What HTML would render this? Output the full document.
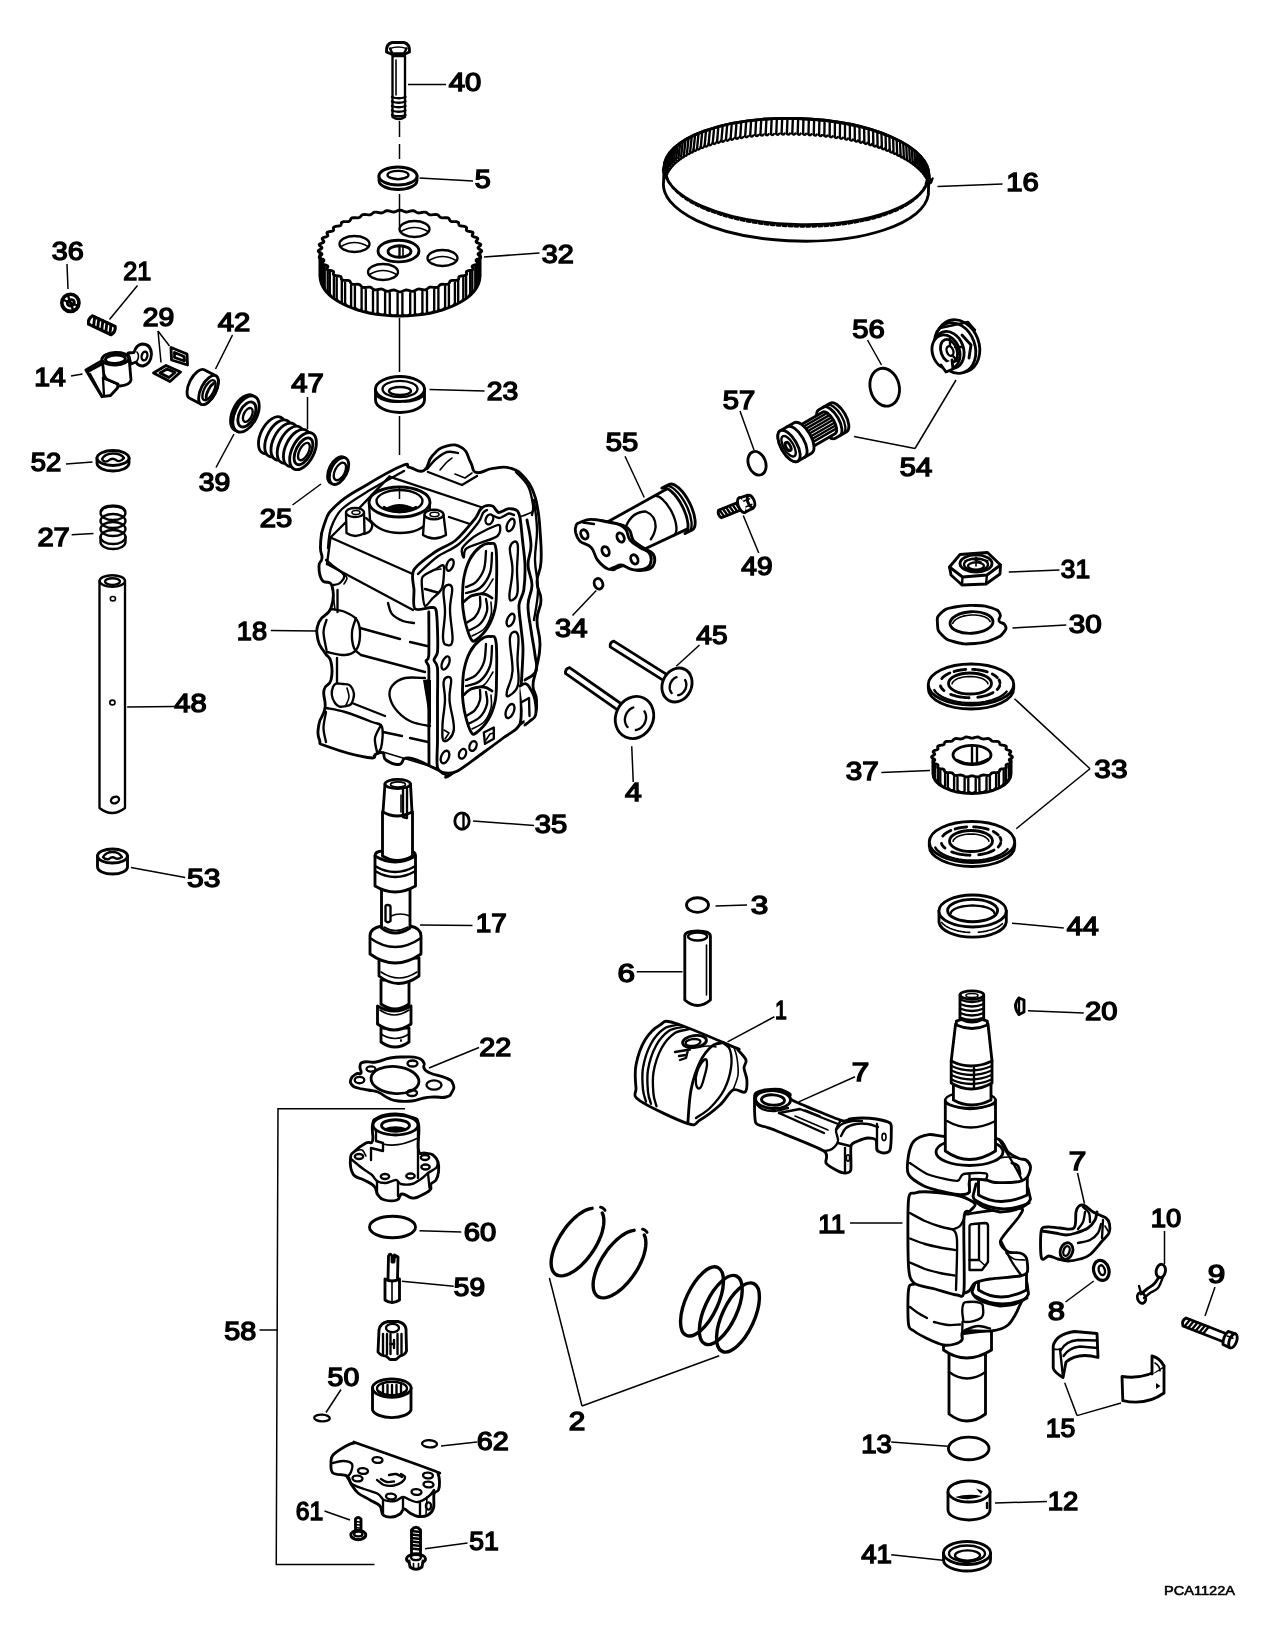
<!DOCTYPE html>
<html><head><meta charset="utf-8"><title>PCA1122A</title>
<style>
html,body{margin:0;padding:0;background:#fff}
svg{display:block}
.o{fill:none;stroke:#000;stroke-width:2.35;stroke-linejoin:round;stroke-linecap:round}
.w{fill:#fff;stroke:#000;stroke-width:2.35;stroke-linejoin:round;stroke-linecap:round}
.t{fill:none;stroke:#000;stroke-width:1.6;stroke-linejoin:round;stroke-linecap:round}
.tw{fill:#fff;stroke:#000;stroke-width:1.6;stroke-linejoin:round;stroke-linecap:round}
.h{fill:none;stroke:#000;stroke-width:2.85;stroke-linejoin:round;stroke-linecap:round}
.hw{fill:#fff;stroke:#000;stroke-width:2.85;stroke-linejoin:round;stroke-linecap:round}
.l{fill:none;stroke:#000;stroke-width:1.5;stroke-linecap:butt}
.k{fill:#000;stroke:none}
text{font-family:"Liberation Sans",sans-serif;font-size:25px;fill:#000;stroke:#000;stroke-width:1.4px}
text.s{font-size:13.5px;stroke-width:.6px}
</style></head><body>
<svg width="1280" height="1627" viewBox="0 0 1280 1627">
<rect width="1280" height="1627" fill="#fff"/>
<!-- 10_topcol.svg -->
<line class="l" x1="399.5" y1="121" x2="399.5" y2="137"/>
<line class="l" x1="399.5" y1="144" x2="399.5" y2="159"/>
<line class="l" x1="399.5" y1="194" x2="399.5" y2="226"/>
<line class="l" x1="399.5" y1="318" x2="399.5" y2="372"/>
<line class="l" x1="399.5" y1="416" x2="399.5" y2="455"/>
<path class="w" d="M392.5,56 L392.5,117 Q398.7,121 405,117 L405,56 Z"/>
<path class="o" d="M392,97 Q398.7,99.5 405.5,97"/>
<path class="o" d="M392,101.5 Q398.7,104 405.5,101.5"/>
<path class="o" d="M392,106 Q398.7,108.5 405.5,106"/>
<path class="o" d="M392,110.5 Q398.7,113 405.5,110.5"/>
<path class="o" d="M392,115 Q398.7,117.5 405.5,115"/>
<line class="t" x1="396" y1="60" x2="396" y2="95"/>
<path class="hw" d="M386.5,52 Q386,44 392,42.5 L404,42.5 Q410,44 409.5,52 Q398,58.5 386.5,52 Z"/>
<path class="o" d="M390,48.5 L392.5,53.5 L404,53.5 L406.5,48.5"/>
<path class="t" d="M390,48.5 Q398,45.5 406.5,48.5"/>
<path class="hw" d="M379,176 L379,180.5 A19,9 0 0 0 417,180.5 L417,176"/>
<ellipse class="hw" cx="398" cy="176" rx="19" ry="9"/>
<ellipse class="o" cx="398" cy="175" rx="10.5" ry="4.2"/>
<path class="t" d="M389.5,177 Q398,180.5 406.5,177"/>
<path class="hw" d="M320,251 L320,276 A80,40 0 0 0 480,276 L480,251 Z"/>
<polygon class="hw" points="481.8,251 481.2,251.8 479.9,252.6 478.6,253.3 478,254.1 478.4,254.9 479.4,255.7 480.5,256.6 480.8,257.4 480,258.1 478.5,258.8 476.9,259.4 476.1,260.1 476.2,260.9 477,261.9 477.7,262.8 477.8,263.6 476.8,264.3 475.1,264.8 473.3,265.4 472.3,266 472.2,266.8 472.7,267.7 473.1,268.7 472.8,269.6 471.7,270.1 469.8,270.5 467.9,270.9 466.7,271.4 466.3,272.2 466.5,273.2 466.7,274.2 466.1,275 464.8,275.5 462.8,275.8 460.9,276 459.5,276.4 458.9,277.2 458.7,278.2 458.6,279.2 457.8,279.9 456.3,280.3 454.3,280.4 452.3,280.4 450.8,280.7 450,281.4 449.5,282.4 449,283.4 448.1,284.1 446.5,284.3 444.4,284.3 442.5,284.2 440.9,284.4 439.8,285 439.1,285.9 438.3,286.8 437.1,287.4 435.5,287.5 433.5,287.3 431.6,287.1 429.9,287.1 428.7,287.7 427.7,288.5 426.6,289.4 425.3,289.9 423.6,289.9 421.7,289.5 419.9,289.1 418.3,289 416.9,289.5 415.6,290.2 414.3,291 412.8,291.4 411.1,291.2 409.4,290.7 407.7,290.2 406.1,290 404.6,290.3 403.1,291 401.6,291.6 400,291.9 398.4,291.6 396.9,291 395.4,290.3 393.9,290 392.3,290.2 390.6,290.7 388.9,291.2 387.2,291.4 385.7,291 384.4,290.2 383.1,289.5 381.7,289 380.1,289.1 378.3,289.5 376.4,289.9 374.7,289.9 373.4,289.4 372.3,288.5 371.3,287.7 370.1,287.1 368.4,287.1 366.5,287.3 364.5,287.5 362.9,287.4 361.7,286.8 360.9,285.9 360.2,285 359.1,284.4 357.5,284.2 355.6,284.3 353.5,284.3 351.9,284.1 351,283.4 350.5,282.4 350,281.4 349.2,280.7 347.7,280.4 345.7,280.4 343.7,280.3 342.2,279.9 341.4,279.2 341.3,278.2 341.1,277.2 340.5,276.4 339.1,276 337.2,275.8 335.2,275.5 333.9,275 333.3,274.2 333.5,273.2 333.7,272.2 333.3,271.4 332.1,270.9 330.2,270.5 328.3,270.1 327.2,269.6 326.9,268.7 327.3,267.7 327.8,266.8 327.7,266 326.7,265.4 324.9,264.8 323.2,264.3 322.2,263.6 322.3,262.8 323,261.9 323.8,260.9 323.9,260.1 323.1,259.4 321.5,258.8 320,258.1 319.2,257.4 319.5,256.6 320.6,255.7 321.6,254.9 322,254.1 321.4,253.3 320.1,252.6 318.8,251.8 318.2,251 318.8,250.2 320.1,249.4 321.4,248.7 322,247.9 321.6,247.1 320.6,246.3 319.5,245.4 319.2,244.6 320,243.9 321.5,243.2 323.1,242.6 323.9,241.9 323.8,241.1 323,240.1 322.3,239.2 322.2,238.4 323.2,237.7 324.9,237.2 326.7,236.6 327.7,236 327.8,235.2 327.3,234.3 326.9,233.3 327.2,232.4 328.3,231.9 330.2,231.5 332.1,231.1 333.3,230.6 333.7,229.8 333.5,228.8 333.3,227.8 333.9,227 335.2,226.5 337.2,226.2 339.1,226 340.5,225.6 341.1,224.8 341.3,223.8 341.4,222.8 342.2,222.1 343.7,221.7 345.7,221.6 347.7,221.6 349.2,221.3 350,220.6 350.5,219.6 351,218.6 351.9,217.9 353.5,217.7 355.6,217.7 357.5,217.8 359.1,217.6 360.2,217 360.9,216.1 361.7,215.2 362.9,214.6 364.5,214.5 366.5,214.7 368.4,214.9 370.1,214.9 371.3,214.3 372.3,213.5 373.4,212.6 374.7,212.1 376.4,212.1 378.3,212.5 380.1,212.9 381.7,213 383.1,212.5 384.4,211.8 385.7,211 387.2,210.6 388.9,210.8 390.6,211.3 392.3,211.8 393.9,212 395.4,211.7 396.9,211 398.4,210.4 400,210.1 401.6,210.4 403.1,211 404.6,211.7 406.1,212 407.7,211.8 409.4,211.3 411.1,210.8 412.8,210.6 414.3,211 415.6,211.8 416.9,212.5 418.3,213 419.9,212.9 421.7,212.5 423.6,212.1 425.3,212.1 426.6,212.6 427.7,213.5 428.7,214.3 429.9,214.9 431.6,214.9 433.5,214.7 435.5,214.5 437.1,214.6 438.3,215.2 439.1,216.1 439.8,217 440.9,217.6 442.5,217.8 444.4,217.7 446.5,217.7 448.1,217.9 449,218.6 449.5,219.6 450,220.6 450.8,221.3 452.3,221.6 454.3,221.6 456.3,221.7 457.8,222.1 458.6,222.8 458.7,223.8 458.9,224.8 459.5,225.6 460.9,226 462.8,226.2 464.8,226.5 466.1,227 466.7,227.8 466.5,228.8 466.3,229.8 466.7,230.6 467.9,231.1 469.8,231.5 471.7,231.9 472.8,232.4 473.1,233.3 472.7,234.3 472.2,235.2 472.3,236 473.3,236.6 475.1,237.2 476.8,237.7 477.8,238.4 477.7,239.2 477,240.1 476.2,241.1 476.1,241.9 476.9,242.6 478.5,243.2 480,243.9 480.8,244.6 480.5,245.4 479.4,246.3 478.4,247.1 478,247.9 478.6,248.7 479.9,249.4 481.2,250.2 481.8,251"/>
<line class="o" x1="480" y1="254.7" x2="480" y2="275.7"/>
<line class="o" x1="479.4" y1="258.6" x2="479.4" y2="279.6"/>
<path class="o" d="M480,275.7 Q479.7,280.6 479.4,279.6"/>
<line class="o" x1="478.6" y1="260.9" x2="478.6" y2="281.9"/>
<line class="o" x1="476.8" y1="264.7" x2="476.8" y2="285.7"/>
<path class="o" d="M478.6,281.9 Q477.7,286.8 476.8,285.7"/>
<line class="o" x1="475.3" y1="267" x2="475.3" y2="288"/>
<line class="o" x1="472.3" y1="270.6" x2="472.3" y2="291.6"/>
<path class="o" d="M475.3,288 Q473.8,292.8 472.3,291.6"/>
<line class="o" x1="470.2" y1="272.7" x2="470.2" y2="293.7"/>
<line class="o" x1="466.1" y1="276" x2="466.1" y2="297"/>
<path class="o" d="M470.2,293.7 Q468.1,298.4 466.1,297"/>
<line class="o" x1="463.3" y1="278" x2="463.3" y2="299"/>
<line class="o" x1="458.2" y1="280.9" x2="458.2" y2="301.9"/>
<path class="o" d="M463.3,299 Q460.8,303.4 458.2,301.9"/>
<line class="o" x1="454.9" y1="282.6" x2="454.9" y2="303.6"/>
<line class="o" x1="448.9" y1="285.1" x2="448.9" y2="306.1"/>
<path class="o" d="M454.9,303.6 Q451.9,307.9 448.9,306.1"/>
<line class="o" x1="445.1" y1="286.5" x2="445.1" y2="307.5"/>
<line class="o" x1="438.4" y1="288.6" x2="438.4" y2="309.6"/>
<path class="o" d="M445.1,307.5 Q441.8,311.6 438.4,309.6"/>
<line class="o" x1="434.2" y1="289.7" x2="434.2" y2="310.7"/>
<line class="o" x1="427" y1="291.2" x2="427" y2="312.2"/>
<path class="o" d="M434.2,310.7 Q430.6,314.4 427,312.2"/>
<line class="o" x1="422.4" y1="291.9" x2="422.4" y2="312.9"/>
<line class="o" x1="414.9" y1="292.8" x2="414.9" y2="313.8"/>
<path class="o" d="M422.4,312.9 Q418.7,316.3 414.9,313.8"/>
<line class="o" x1="410.2" y1="293.2" x2="410.2" y2="314.2"/>
<line class="o" x1="402.4" y1="293.5" x2="402.4" y2="314.5"/>
<path class="o" d="M410.2,314.2 Q406.3,317.3 402.4,314.5"/>
<line class="o" x1="397.6" y1="293.5" x2="397.6" y2="314.5"/>
<line class="o" x1="389.8" y1="293.2" x2="389.8" y2="314.2"/>
<path class="o" d="M397.6,314.5 Q393.7,317.3 389.8,314.2"/>
<line class="o" x1="385.1" y1="292.8" x2="385.1" y2="313.8"/>
<line class="o" x1="377.6" y1="291.9" x2="377.6" y2="312.9"/>
<path class="o" d="M385.1,313.8 Q381.3,316.3 377.6,312.9"/>
<line class="o" x1="373" y1="291.2" x2="373" y2="312.2"/>
<line class="o" x1="365.8" y1="289.7" x2="365.8" y2="310.7"/>
<path class="o" d="M373,312.2 Q369.4,314.4 365.8,310.7"/>
<line class="o" x1="361.6" y1="288.6" x2="361.6" y2="309.6"/>
<line class="o" x1="354.9" y1="286.5" x2="354.9" y2="307.5"/>
<path class="o" d="M361.6,309.6 Q358.2,311.6 354.9,307.5"/>
<line class="o" x1="351.1" y1="285.1" x2="351.1" y2="306.1"/>
<line class="o" x1="345.1" y1="282.6" x2="345.1" y2="303.6"/>
<path class="o" d="M351.1,306.1 Q348.1,307.9 345.1,303.6"/>
<line class="o" x1="341.8" y1="280.9" x2="341.8" y2="301.9"/>
<line class="o" x1="336.7" y1="278" x2="336.7" y2="299"/>
<path class="o" d="M341.8,301.9 Q339.2,303.4 336.7,299"/>
<line class="o" x1="333.9" y1="276" x2="333.9" y2="297"/>
<line class="o" x1="329.8" y1="272.7" x2="329.8" y2="293.7"/>
<path class="o" d="M333.9,297 Q331.9,298.4 329.8,293.7"/>
<line class="o" x1="327.7" y1="270.6" x2="327.7" y2="291.6"/>
<line class="o" x1="324.7" y1="267" x2="324.7" y2="288"/>
<path class="o" d="M327.7,291.6 Q326.2,292.8 324.7,288"/>
<line class="o" x1="323.2" y1="264.7" x2="323.2" y2="285.7"/>
<line class="o" x1="321.4" y1="260.9" x2="321.4" y2="281.9"/>
<path class="o" d="M323.2,285.7 Q322.3,286.8 321.4,281.9"/>
<line class="o" x1="320.6" y1="258.6" x2="320.6" y2="279.6"/>
<line class="o" x1="320" y1="254.7" x2="320" y2="275.7"/>
<path class="o" d="M320.6,279.6 Q320.3,280.6 320,275.7"/>
<ellipse class="w" cx="414.5" cy="229" rx="15" ry="8"/>
<path class="t" d="M401,231.5 Q414.5,223.5 428,231.5"/>
<ellipse class="w" cx="354.5" cy="244" rx="15" ry="8"/>
<path class="t" d="M341,246.5 Q354.5,238.5 368,246.5"/>
<ellipse class="w" cx="442.5" cy="258" rx="15" ry="8"/>
<path class="t" d="M429,260.5 Q442.5,252.5 456,260.5"/>
<ellipse class="w" cx="383" cy="272" rx="15" ry="8"/>
<path class="t" d="M369.5,274.5 Q383,266.5 396.5,274.5"/>
<ellipse class="hw" cx="398.5" cy="251" rx="20.5" ry="10.8"/>
<ellipse class="hw" cx="399.5" cy="251.5" rx="11.5" ry="5.8"/>
<line class="o" x1="399.5" y1="246" x2="399.5" y2="257"/>
<line class="t" x1="403" y1="247" x2="403" y2="256.5"/>
<line class="l" x1="399.5" y1="210" x2="399.5" y2="226.5"/>
<path class="hw" d="M375.5,389 L375.5,400 A24.5,12.5 0 0 0 424.5,400 L424.5,389"/>
<ellipse class="hw" cx="400" cy="389" rx="24.5" ry="12.5"/>
<ellipse class="o" cx="400" cy="389" rx="17.5" ry="8.2"/>
<ellipse class="o" cx="400" cy="391" rx="11" ry="4"/>
<path class="t" d="M377,396.5 A24,12 0 0 0 400,402"/>
<path class="t" d="M404,402 A24,12 0 0 0 423,396.5"/>

<!-- 11_left.svg -->
<ellipse class="hw" cx="70.4" cy="302.8" rx="8.6" ry="8.6" style="stroke-width:3.6"/>
<ellipse class="h" cx="70.8" cy="302.8" rx="3.6" ry="3" transform="rotate(-20 70.8 302.8)"/>
<line class="o" x1="63.5" y1="300" x2="77.5" y2="305.5"/>
<line class="o" x1="68" y1="295.5" x2="73" y2="310"/>
<g transform="translate(90.5,320) rotate(25)">
<path class="hw" d="M0,-4.6 L25,-4.6 Q28,0 25,4.6 L0,4.6 Q-3,0 0,-4.6 Z" style="stroke-width:3.2"/>
<line class="h" x1="2.5" y1="-4.6" x2="5.5" y2="4.6"/>
<line class="h" x1="7" y1="-4.6" x2="10" y2="4.6"/>
<line class="h" x1="11.5" y1="-4.6" x2="14.5" y2="4.6"/>
<line class="h" x1="16" y1="-4.6" x2="19" y2="4.6"/>
<line class="h" x1="20.5" y1="-4.6" x2="23.5" y2="4.6"/>
</g>
<path class="hw" d="M128,353 L134,352.5 Q136,345 142,344 Q151,344 151.5,354 Q151,364 143,366 Q138,366 136,362 L131,364 Z"/>
<ellipse class="o" cx="144.5" cy="356" rx="2.8" ry="4.4" transform="rotate(15 144.5 356)"/>
<path class="t" d="M137,352 Q140,356 137,361"/>
<path class="hw" d="M102,359 L102.8,372 Q108,386 120,386 Q130,385 131,380 L129,357 Z"/>
<ellipse class="hw" cx="115.4" cy="358.8" rx="13.4" ry="6.3" transform="rotate(-3 115.4 358.8)"/>
<ellipse class="h" cx="115.4" cy="359.2" rx="10" ry="4.2" transform="rotate(-3 115.4 359.2)"/>
<path class="hw" d="M85.9,370 L100.6,361.6 L103,366 L104,378 L118,384 L117.5,388 L110.5,395.5 L102,396.7 Z"/>
<path class="h" d="M88,371.5 L100,365"/>
<path class="o" d="M90,374 L102,396"/>
<path class="o" d="M103,378 L104,396"/>
<path class="o" d="M103,378 L117,384"/>
<path class="hw" d="M171,347.5 L187,354 L187.5,365 L171.5,360 Z"/>
<path class="h" d="M174.5,352.5 L184,356.5 L184.5,361 L174.5,357.5 Z"/>
<path class="hw" d="M153.5,373 L166,365.5 L180.5,372 L170,381.5 Z"/>
<path class="h" d="M160,373 L167,369 L175,372.5 L169,377.5 Z"/>
<g transform="translate(208.5,390) rotate(27)">
<path class="hw" d="M-13,-16 L0,-16 A7.5,16 0 0 1 0,16 L-13,16 A7.5,16 0 0 1 -13,-16 Z"/>
<ellipse class="hw" cx="0" cy="0" rx="7.5" ry="16"/>
<ellipse class="o" cx="0.5" cy="0" rx="4.8" ry="11"/>
<path class="h" d="M1.5,-8 A3,9 0 0 0 1.5,8"/>
</g>
<g transform="translate(246,414) rotate(27)">
<ellipse class="hw" cx="-2.5" cy="0" rx="11" ry="19.5"/>
<ellipse class="hw" cx="0" cy="0" rx="11" ry="19.5"/>
<ellipse class="h" cx="1" cy="0" rx="7.5" ry="13.5"/>
<ellipse class="o" cx="2" cy="0" rx="4" ry="7.5"/>
</g>
<g transform="translate(295,447) rotate(27)">
<ellipse class="hw" cx="-26" cy="0" rx="11" ry="20"/>
<ellipse class="hw" cx="-19" cy="0" rx="11" ry="20"/>
<ellipse class="hw" cx="-12" cy="0" rx="11" ry="20"/>
<ellipse class="hw" cx="-5" cy="0" rx="11" ry="20"/>
<ellipse class="hw" cx="2" cy="0" rx="11" ry="20"/>
<ellipse class="hw" cx="9" cy="0" rx="11" ry="20"/>
<ellipse class="h" cx="9.5" cy="0" rx="7.5" ry="14.5"/>
<ellipse class="o" cx="10" cy="0" rx="4.5" ry="9.5"/>
</g>
<g transform="translate(339,471) rotate(27)">
<ellipse class="hw" cx="-2" cy="0" rx="8" ry="14.5"/>
<ellipse class="hw" cx="0" cy="0" rx="8" ry="14.5"/>
<ellipse class="o" cx="1" cy="0" rx="5" ry="9.5"/>
</g>
<path class="hw" d="M97,458 L97,463 A16,8 0 0 0 129,463 L129,458"/>
<ellipse class="hw" cx="113" cy="458" rx="16" ry="7.5"/>
<path class="o" d="M102,459 Q105,453.5 113,453.5 Q121,453.5 124,458 Q120,463 116,460 Q112,457 108,461 Q104,463 102,459 Z"/>
<ellipse class="o" cx="113" cy="513" rx="12.5" ry="7"/>
<ellipse class="o" cx="113" cy="521" rx="12.5" ry="7"/>
<ellipse class="o" cx="113" cy="529" rx="12.5" ry="7"/>
<ellipse class="o" cx="113" cy="537" rx="12.5" ry="7"/>
<path class="o" d="M100.5,537 L100.5,542 A12.5,7 0 0 0 125.5,542 L125.5,537"/>
<path class="h" d="M101,511 Q103,506 113,506 Q123,506 125,511"/>
<path class="w" d="M99.5,581 L99.5,808 Q112,818 125,808 L125,581"/>
<ellipse class="w" cx="112.3" cy="581" rx="12.7" ry="5.8"/>
<ellipse class="o" cx="112.5" cy="581.5" rx="7.5" ry="3.3"/>
<ellipse class="t" cx="112.9" cy="598.7" rx="2.6" ry="2.2"/>
<ellipse class="t" cx="112.4" cy="702.5" rx="2.6" ry="2.4"/>
<ellipse class="o" cx="115" cy="800" rx="4.2" ry="3.2" transform="rotate(-25 115 800)"/>
<path class="hw" d="M97.5,856 L97.5,867 A15,7 0 0 0 127.5,867 L127.5,856"/>
<ellipse class="hw" cx="112.5" cy="856" rx="15" ry="7"/>
<path class="o" d="M103,857 Q106,852 112.5,852 Q119,852 122,857 Q118,860 115,858 Q112,856 109,859 Q105,860 103,857 Z"/>

<!-- 12_head.svg -->
<path class="hw" d="M401.6,466 C390.9,470.3 383.2,474.9 367,484.7 C350.8,494.4 347.4,494.9 336.6,505 C325.9,515.1 328,514.8 324,525 C320,535.2 321,537.8 320.5,546 C320,554.2 322.4,553 322,558 C321.6,563 319,560.5 319,566 C319,571.5 318.8,575 322,580 C325.2,585 329.8,579 332,586 C334.2,593 334.2,599 331,608 C327.8,617 322.2,614 319,622 C315.8,630 316.5,632.2 318,640 C319.5,647.8 321.8,647.5 325,653 C328.2,658.5 329.5,655.2 331,662 C332.5,668.8 332.8,673 331,680 C329.2,687 325.5,683 324,690 C322.5,697 326.2,699.5 325,708 C323.8,716.5 320.4,716 319,724 C317.6,732 317.4,734.4 319.5,740 C321.6,745.6 315.5,742.1 327.5,746.5 C339.5,750.9 355.4,755.6 367.5,757.5 C379.6,759.4 372.1,755.1 376,754 C379.9,752.9 380.5,751.5 383,753 C385.5,754.5 382,757.1 386,760 C390,762.9 393.2,765 399,764.5 C404.8,764 399.8,756.9 409,758 C418.2,759.1 427,765 436,769 C445,773 440,773.5 445,774 C450,774.5 437.9,783 456,771 C474.1,759 498.2,739.8 517.5,726 C536.8,712.2 528.2,722.5 533,716 C537.8,709.5 536.5,707.5 536.5,700 C536.5,692.5 533.1,693.5 533,686 C532.9,678.5 534.2,680.2 536,670 C537.8,659.8 539.8,657.5 540,645 C540.2,632.5 536.8,631.2 537,620 C537.2,608.8 541,609.5 541,600 C541,590.5 537,591.5 537,582 C537,572.5 540.2,575 541,562 C541.8,549 540.8,543.2 540,530 C539.2,516.8 539.3,518.3 537.7,509 C536.1,499.7 536.7,500.4 533.6,492.8 C530.5,485.2 531.1,484.7 525.5,478.6 C519.9,472.5 519.4,470.9 511.3,468.4 C503.2,465.8 501.6,467.4 493,468.4 C484.4,469.4 482.3,474 476.7,472.5 C471.1,471 474.2,468.4 470.6,462.3 C467.1,456.2 468.6,452.2 462.5,448.1 C456.4,444.1 453.9,444.1 446.3,446.1 C438.7,448.1 437.6,450.1 432,456.2 C426.4,462.3 429.5,467.7 423.9,470.5 C418.3,473.3 415.3,468.5 409.7,467.4 C404.1,466.3 412.3,461.7 401.6,466 Z"/>
<path class="o" d="M328,548 C328.5,544.7 328.7,534.5 331,528 C333.3,521.5 335.5,515.3 342,509 C348.5,502.7 359.7,496.3 370,490 C380.3,483.7 398.3,474.2 404,471"/>
<polyline class="o" points="389.4,476.6 480.8,507"/>
<polyline class="o" points="330.5,537.5 412.7,574"/>
<polyline class="o" points="330.5,537.5 345,523 389.4,476.6"/>
<polyline class="o" points="327,564 413,610"/>
<polyline class="o" points="330.5,537.5 327,564"/>
<path class="o" d="M427,469 C428.5,467.3 432.7,461.8 436,459 C439.3,456.2 443.3,453 447,452 C450.7,451 456.2,452.8 458,453"/>
<path class="t" d="M440,470 C441.2,468.7 445,464 447,462 C449,460 451.2,458.7 452,458"/>
<polyline class="o" points="428,472 462,485 477,476"/>
<polyline class="t" points="455,474 465,478 472,473"/>
<polyline class="o" points="449,517 470,524"/>
<path class="o" d="M516,472 C518,474.3 525.2,480.5 528,486 C530.8,491.5 532.3,500.2 533,505 C533.7,509.8 532.2,513.3 532,515"/>
<path class="t" d="M520,517 C521.7,516.3 527,514.5 530,513 C533,511.5 536.7,508.8 538,508"/>
<path class="w" d="M369,503 L370,520 Q380,533 400,533 Q420,533 429,521 L430,503"/>
<ellipse class="hw" cx="399.5" cy="502" rx="30.5" ry="15"/>
<ellipse class="o" cx="399.5" cy="501" rx="23" ry="11"/>
<path class="k" d="M386,508 Q399,500 414,508 Q400,515 386,508 Z"/>
<path class="o" d="M384,507 Q399,517 416,507"/>
<line class="l" x1="399.5" y1="486" x2="399.5" y2="499"/>
<path class="o" d="M366,518 C367,519 371.3,521.8 372,524 C372.7,526.2 371.3,529.3 370,531 C368.7,532.7 365,533.5 364,534"/>
<path class="w" d="M346,513 L346.5,533 Q355,539 364.5,533 L364,513"/>
<ellipse class="w" cx="355" cy="512.5" rx="9" ry="4.5"/>
<ellipse class="t" cx="356" cy="512.5" rx="4" ry="2"/>
<path class="w" d="M424.5,515 L423,535 Q434,542 446,535 L443.5,515"/>
<ellipse class="w" cx="434" cy="514.5" rx="9.5" ry="4.8"/>
<ellipse class="t" cx="434.5" cy="514.5" rx="4.5" ry="2.2"/>
<path class="o" d="M326,560 C327.2,561 330,563.5 333,566 C336,568.5 342.8,572.2 344,575 C345.2,577.8 341.8,581.3 340,583 C338.2,584.7 334.2,584.7 333,585"/>
<path class="t" d="M343,574 C343.7,574.7 346.8,576.3 347,578 C347.2,579.7 344.5,583 344,584"/>
<path class="hw" d="M413.8,570 C416.9,564.3 428.7,556.5 435,552 C441.3,547.5 450,545 456,540 C462,535 471.4,523.2 475,518.8 C478.6,514.2 478.5,511.9 480,510 C481.5,508.1 483.1,506.6 485,506 C486.9,505.4 490.9,505.4 492.5,506 C494.1,506.6 495.1,509 496,510 C496.9,511 497.7,512.4 498.8,512.5 C499.8,512.6 501.7,511.6 503,511 C504.3,510.4 506,509.1 507.5,508.8 C509,508.4 511.5,508.7 513,509 C514.5,509.3 516.5,509.7 517.5,511 C518.5,512.3 519.2,513.1 520,517.5 C520.8,521.9 521.8,532.9 522.5,540 C523.2,547.1 524.8,557.5 525,565 C525.2,572.5 524.6,584 523.8,590 C522.9,596 519.4,599.4 519,605 C518.6,610.6 520.4,620.8 521,627.5 C521.6,634.2 523,640.6 523,650 C523,659.4 521.5,678.9 521,690 C520.5,701.1 522.6,716.6 520,723.8 C517.4,730.9 509.8,732.8 503.8,737.5 C497.8,742.2 486.9,750 480,755 C473.1,760 462.6,768.3 457.5,771 C452.4,773.7 449,773.5 446,773 C443,772.5 438.8,772.5 437.5,767.5 C436.2,762.5 437.5,750.1 437.5,740 C437.5,729.9 437.5,710.8 437.5,700 C437.5,689.2 438,674 437.5,668 C437,662 434,662.4 434,660 C434,657.6 437,656.5 437.5,652 C438,647.5 437.7,636.3 437.5,630 C437.3,623.7 437,613.4 436,610 C435,606.6 434.1,607.7 431,607.5 C427.9,607.3 417.6,611.4 415,608.8 C412.4,606.1 414.2,595.8 414,590 C413.8,584.2 410.6,575.7 413.8,570 Z"/>
<path class="o" d="M418,574 C421.2,571.2 430.2,562 437,557 C443.8,552 452.2,549.7 459,544 C465.8,538.3 474,528.2 478,523 C482,517.8 481.5,515.2 483,513 C484.5,510.8 486.3,510.5 487,510"/>
<path class="o" d="M494,516 C494.8,516.3 497.3,518 499,518 C500.7,518 502.3,516.8 504,516 C505.7,515.2 507.3,513.7 509,513.5 C510.7,513.3 513.2,514.8 514,515"/>
<path class="h" d="M428.8,612 C428.8,617.7 429.1,648.5 428.8,655 C428.4,661.5 426,659.3 426,661 C426,662.7 428.4,662.8 428.8,668 C429.1,673.2 428.7,687.1 428.8,700 C428.8,712.9 429,756.3 429,765"/>
<path class="k" d="M423,680 L431,680 L431,727.5 Q427,705 423,680 Z"/>
<ellipse class="o" cx="489.4" cy="519.4" rx="3.6" ry="5.2" transform="rotate(22 489.4 519.4)"/>
<ellipse class="o" cx="510.6" cy="525" rx="3.4" ry="6.6" transform="rotate(22 510.6 525)"/>
<ellipse class="o" cx="450" cy="565" rx="3.2" ry="6" transform="rotate(22 450 565)"/>
<ellipse class="o" cx="510.6" cy="620" rx="3.4" ry="6.6" transform="rotate(22 510.6 620)"/>
<ellipse class="o" cx="445.6" cy="663" rx="3.4" ry="7" transform="rotate(22 445.6 663)"/>
<ellipse class="o" cx="510" cy="711" rx="3.8" ry="7.4" transform="rotate(22 510 711)"/>
<ellipse class="o" cx="445" cy="757" rx="3.8" ry="6.6" transform="rotate(22 445 757)"/>
<ellipse class="o" cx="473" cy="746" rx="3.4" ry="5" transform="rotate(22 473 746)"/>
<ellipse class="o" cx="462.5" cy="753.8" rx="3.4" ry="5" transform="rotate(22 462.5 753.8)"/>
<polygon class="o" points="483.8,732.5 493.8,727.5 493.8,738.8 485,743.8"/>
<polyline class="t" points="486,740 490,734 493.5,733"/>
<path class="o" d="M443.8,589 C445.1,584.1 450.8,583.3 452,587.5 C453.2,591.7 449.9,599.5 450,610 C450.1,620.5 453.1,633 452.5,640 C451.9,647 448.9,645.4 447,645 C445.1,644.6 443.4,644.6 443,638 C442.6,631.4 444.9,621.8 445,612 C445.1,602.2 442.4,593.9 443.8,589 Z"/>
<path class="o" d="M443.8,681 C444.9,676.8 449.9,675.2 451,679 C452.1,682.8 448.9,689.8 449.5,700 C450.1,710.2 454.9,721.8 453.8,730 C452.6,738.2 446.2,742 444,741 C441.8,740 442.3,733.2 442.5,725 C442.7,716.8 444.8,708.8 445,700 C445.2,691.2 442.6,685.2 443.8,681 Z"/>
<polyline class="t" points="444,730 449,733 445,739"/>
<path class="o" d="M510,547.5 C511,542.2 516.1,539.2 517.5,543.8 C518.9,548.2 517,560.2 517,570 C517,579.8 518.4,586.5 517.5,592.5 C516.6,598.5 514.1,599.3 512.5,600 C510.9,600.7 509.4,602 509.4,596 C509.4,590 512.4,579.7 512.5,570 C512.6,560.3 509,552.8 510,547.5 Z"/>
<path class="o" d="M510,637.5 C511.1,630.3 516.5,630.5 518,635 C519.5,639.5 517.5,650 517.5,660 C517.5,670 519.8,677.8 518,685 C516.2,692.2 510.9,694.8 508.8,696 C506.6,697.2 506.2,696 507,691 C507.8,686 511.9,681.7 512.5,671 C513.1,660.3 508.9,644.7 510,637.5 Z"/>
<path class="o" d="M478.8,533.8 C482.9,531.4 491.5,527.3 495,526 C498.5,524.7 499.6,524.3 500,526 C500.4,527.7 500.8,533.2 497.5,536 C494.2,538.8 485.2,540.9 480,543 C474.8,545.1 468.7,546.3 466,548.8 C463.3,551.2 464.4,557.5 463.8,557.5 C463.1,557.5 461,551.9 462,549 C463,546.1 467.2,542.5 470,540 C472.8,537.5 474.6,536.1 478.8,533.8 Z"/>
<path class="o" d="M422.5,577 C424.3,573.9 433.2,570.5 436,569 C438.8,567.5 442.9,563.5 443.8,566 C444.6,568.5 443.6,583.6 442,588 C440.4,592.4 434.3,596.6 432,599 C429.7,601.4 426.3,606.9 425,606 C423.7,605.1 422.8,595.9 422.5,592 C422.2,588.1 420.7,580.1 422.5,577 Z"/>
<polyline class="o" points="425,589 437.5,592.5"/>
<polyline class="t" points="434,570 441,569"/>
<path class="hw" d="M462.5,597 C462.7,591.1 462.6,584 464,577 C465.4,570 467.1,564.5 470,559 C472.9,553.5 476.3,549.8 480,547 C483.7,544.2 487.1,543.1 490,543.5 C492.9,543.9 494.8,541 496,549 C497.2,557 496.7,576 496.5,587 C496.3,598 496.6,601.7 495,609 C493.4,616.3 491.5,621.3 488,627 C484.5,632.7 479.1,637.8 476,640 C472.9,642.2 472.8,641.8 471,639 C469.2,636.2 467.5,630.5 466,625 C464.5,619.5 463.6,614.1 463,609 C462.4,603.9 462.3,602.9 462.5,597 Z"/>
<path class="o" d="M466,587 C467.7,586.2 473,585 476,582 C479,579 482.3,574.2 484,569 C485.7,563.8 485.7,554 486,551"/>
<path class="o" d="M466,593 C468.3,592.2 476,591.3 480,588 C484,584.7 488,578.8 490,573 C492,567.2 491.7,556.3 492,553"/>
<path class="t" d="M470,596.5 C472.3,595.8 480.2,594.9 484,592 C487.8,589.1 491.5,581.2 493,579"/>
<path class="h" d="M463.5,602 C464.9,600.9 468.6,596.8 472,595.5 C475.4,594.2 480.7,593.6 484,594 C487.3,594.4 490.7,597.3 492,598"/>
<path class="o" d="M466,623 C467.5,622 472.7,619.7 475,617 C477.3,614.3 479.2,610.3 480,607 C480.8,603.7 480,598.7 480,597"/>
<path class="o" d="M468,631 C470,629.8 476.8,627.3 480,624 C483.2,620.7 486,615.2 487,611 C488,606.8 486.2,601 486,599"/>
<path class="t" d="M472,636 C474,634.8 480.8,632.5 484,629 C487.2,625.5 489.8,619.5 491,615 C492.2,610.5 491,604.2 491,602"/>
<path class="hw" d="M462.5,690 C462.7,684.1 462.6,677 464,670 C465.4,663 467.1,657.5 470,652 C472.9,646.5 476.3,642.8 480,640 C483.7,637.2 487.1,636.1 490,636.5 C492.9,636.9 494.8,634 496,642 C497.2,650 496.7,669 496.5,680 C496.3,691 496.6,694.7 495,702 C493.4,709.3 491.5,714.3 488,720 C484.5,725.7 479.1,730.8 476,733 C472.9,735.2 472.8,734.8 471,732 C469.2,729.2 467.5,723.5 466,718 C464.5,712.5 463.6,707.1 463,702 C462.4,696.9 462.3,695.9 462.5,690 Z"/>
<path class="o" d="M466,680 C467.7,679.2 473,678 476,675 C479,672 482.3,667.2 484,662 C485.7,656.8 485.7,647 486,644"/>
<path class="o" d="M466,686 C468.3,685.2 476,684.3 480,681 C484,677.7 488,671.8 490,666 C492,660.2 491.7,649.3 492,646"/>
<path class="t" d="M470,689.5 C472.3,688.8 480.2,687.9 484,685 C487.8,682.1 491.5,674.2 493,672"/>
<path class="h" d="M463.5,695 C464.9,693.9 468.6,689.8 472,688.5 C475.4,687.2 480.7,686.6 484,687 C487.3,687.4 490.7,690.3 492,691"/>
<path class="o" d="M466,716 C467.5,715 472.7,712.7 475,710 C477.3,707.3 479.2,703.3 480,700 C480.8,696.7 480,691.7 480,690"/>
<path class="o" d="M468,724 C470,722.8 476.8,720.3 480,717 C483.2,713.7 486,708.2 487,704 C488,699.8 486.2,694 486,692"/>
<path class="t" d="M472,729 C474,727.8 480.8,725.5 484,722 C487.2,718.5 489.8,712.5 491,708 C492.2,703.5 491,697.2 491,695"/>
<path class="o" d="M337.5,590 C337.5,593.7 337.5,608.3 337.5,612"/>
<path class="o" d="M337,658 C337,662.2 337,678.8 337,683"/>
<path class="o" d="M326.5,620 C326,622 323.5,627 323.5,632 C323.5,637 326,647 326.5,650"/>
<path class="o" d="M326,712 C325.6,714.7 323.5,723 323.5,728 C323.5,733 325.6,739.7 326,742"/>
<path class="o" d="M331,609 C333.3,609.5 340.7,610.2 345,612 C349.3,613.8 354.5,616 357,620 C359.5,624 360.2,631 360,636 C359.8,641 358.5,646.8 356,650 C353.5,653.2 349.8,654.7 345,655 C340.2,655.3 330,652.5 327,652"/>
<path class="o" d="M356,618 C355.3,620.3 352.3,627 352,632 C351.7,637 352.5,644.2 354,648 C355.5,651.8 359.8,653.8 361,655"/>
<polyline class="o" points="360,628 400,639"/>
<polyline class="o" points="410,642 427,646"/>
<polyline class="o" points="361,655 425,672"/>
<polyline class="t" points="335,610 332,585"/>
<path class="o" d="M388,603 C388.7,604.8 389.5,611 392,614 C394.5,617 399.3,619.5 403,621 C406.7,622.5 412.2,622.7 414,623"/>
<path class="o" d="M333,687 C335.1,681.9 337.9,683.7 343,684 C348.1,684.3 349.3,683.7 352,688 C354.7,692.3 354.6,695.2 353,700 C351.4,704.8 350.8,705.2 346,706 C341.2,706.8 338.5,708.1 335,703 C331.5,697.9 330.9,692.1 333,687 Z"/>
<path class="t" d="M347,688 C347.3,689.5 349.2,694.2 349,697 C348.8,699.8 346.5,703.7 346,705"/>
<polyline class="o" points="352,703 385,716"/>
<path class="o" d="M326,708 C329.2,708.7 337.3,709.7 345,712 C352.7,714.3 365.8,719.5 372,722 C378.2,724.5 380.5,722.7 382,727 C383.5,731.3 382.3,743.2 381,748 C379.7,752.8 375.2,754.7 374,756"/>
<path class="o" d="M381,725 C380,727.2 375.7,733.5 375,738 C374.3,742.5 376.7,749.7 377,752"/>
<polyline class="o" points="383,732 402,736"/>
<polyline class="o" points="410,738 428,742"/>
<polyline class="t" points="383,752 436,768"/>
<path class="o" d="M425,678 C421.7,678 410.5,676.7 405,678 C399.5,679.3 394.5,682.7 392,686 C389.5,689.3 389,693.7 390,698 C391,702.3 394.3,708 398,712 C401.7,716 406.7,719.7 412,722 C417.3,724.3 427,725.3 430,726"/>
<path class="k" d="M424,680 L430,679 L431,712 L428,705 L425,690 Z"/>
<path class="h" d="M527,520 C527.8,525 530.8,536 531,545 C531.2,554 527.8,557 528,565 C528.2,573 532,577 532,585 C532,593 528.2,596 528,605 C527.8,614 529.6,620 531,630 C532.4,640 534,646.8 535,655 C536,663.2 538,666 536,671 C534,676 527.2,678.2 525,680"/>
<path class="o" d="M534,500 C534.6,506 536.8,518 537,530 C537.2,542 534.8,548 535,560 C535.2,572 538.2,578 538,590 C537.8,602 534.8,614 534,620"/>
<path class="hw" d="M520,686 C521.2,685.5 523.8,683 526,683.8 C528.2,684.5 529.2,686.8 531,690 C532.8,693.2 534.1,695 535,700 C535.9,705 536.6,710.8 535.6,715 C534.6,719.2 532.1,719 530,721 C527.9,723 526,724.2 525,725"/>
<polyline class="o" points="522,702 529,698 529.5,716"/>

<!-- 13_cam_pump.svg -->
<ellipse class="hw" cx="462" cy="821" rx="7.2" ry="8.2"/>
<line class="o" x1="463.5" y1="813.5" x2="463.5" y2="828.5"/>
<path class="hw" d="M381,1028 L381,1042 Q395,1052 409,1042 L409,1028 Z"/>
<path class="t" d="M381,1034 Q395,1043 409,1034"/>
<ellipse class="k" cx="401" cy="1040.5" rx="1" ry="1.6"/>
<path class="hw" d="M377.5,1006 L377.5,1024 Q394,1036 411,1024 L411,1006 Q394,1016 377.5,1006 Z"/>
<path class="t" d="M380,1010 Q394,1020 409,1010"/>
<path class="hw" d="M381,980 L381,1004 Q395,1014 409,1004 L409,980 Z"/>
<path class="hw" d="M379,958 L379,976 Q398,991 419,976 L419,958 Z"/>
<path class="t" d="M381,972 Q399,984 417,972"/>
<path class="hw" d="M370,936 L370,954 Q395,972 421,954 L421,936 Q421,928 410,926 L382,926 Q370,928 370,936 Z"/>
<path class="o" d="M370,938 Q395,956 421,938"/>
<path class="hw" d="M381.5,888 L381.5,928 Q395,938 410,928 L410,888 Z"/>
<path class="t" d="M384,927 Q395,934 408,927"/>
<path class="o" d="M385.5,907 Q385,905 387.5,905 Q390.5,905 390.5,907 L390.5,921 Q388,923.5 385.5,921 Z"/>
<path class="t" d="M391,916 Q400,912 410,916"/>
<path class="hw" d="M375,856 L375,886 Q395,898 415.5,886 L415.5,856 Z"/>
<path class="o" d="M375,866 Q395,878 415.5,866"/>
<path class="o" d="M375,871 Q395,883 415.5,871"/>
<path class="hw" d="M375,856 Q375,851 383,851 L408,851 Q416,851 415.5,856 Q395,868 375,856 Z"/>
<path class="hw" d="M382.5,812 L382.5,856 Q397,865 412.5,856 L412.5,812 Z"/>
<path class="hw" d="M385,784 L383,812 Q397,820 412,812 L410.5,784 Z"/>
<ellipse class="hw" cx="397.7" cy="784" rx="12.7" ry="4.6"/>
<ellipse class="t" cx="398" cy="784.5" rx="7.5" ry="2.6"/>
<path class="o" d="M403,789 L403,817 L407,818 L407,789"/>
<line class="t" x1="401" y1="795" x2="401" y2="812"/>
<path class="hw" d="M351,1079 C352.1,1076.1 353.3,1075.6 356,1074 C358.7,1072.4 359.9,1075.1 361,1073 C362.1,1070.9 359.2,1068.9 360,1066 C360.8,1063.1 359.7,1063.1 364,1062 C368.3,1060.9 369.1,1063.1 376,1062 C382.9,1060.9 382.5,1059.3 390,1058 C397.5,1056.7 396.5,1057 404,1057 C411.5,1057 412.7,1056.4 418,1058 C423.3,1059.6 422.4,1060.3 424,1063 C425.6,1065.7 422.4,1065.3 424,1068 C425.6,1070.7 424.1,1070.3 430,1073 C435.9,1075.7 439.9,1075.1 446,1078 C452.1,1080.9 451.4,1080.3 453,1084 C454.6,1087.7 453.9,1088.5 452,1092 C450.1,1095.5 450.8,1095.7 446,1097 C441.2,1098.3 439.9,1096.7 434,1097 C428.1,1097.3 429.9,1096.9 424,1098 C418.1,1099.1 418.9,1100.2 412,1101 C405.1,1101.8 404.4,1101.8 398,1101 C391.6,1100.2 393.3,1100.4 388,1098 C382.7,1095.6 383.3,1094.1 378,1092 C372.7,1089.9 373.3,1091.1 368,1090 C362.7,1088.9 362.3,1089.3 358,1088 C353.7,1086.7 353.9,1087.4 352,1085 C350.1,1082.6 349.9,1081.9 351,1079 Z"/>
<ellipse class="hw" cx="395" cy="1080" rx="24" ry="13.5" transform="rotate(5 395 1080)"/>
<ellipse class="o" cx="359.5" cy="1080" rx="4.8" ry="3.2"/>
<ellipse class="o" cx="371" cy="1069" rx="4.5" ry="2.6"/>
<ellipse class="o" cx="412.5" cy="1063.5" rx="5" ry="3"/>
<ellipse class="o" cx="434" cy="1085" rx="7.5" ry="4.6"/>
<ellipse class="o" cx="412" cy="1093" rx="5" ry="3"/>
<path class="hw" d="M350.5,1158 C351,1152.6 351.4,1154.5 355,1151 C358.6,1147.5 361.9,1145.3 366,1143 C370.1,1140.7 371,1145.2 372.5,1141 C374,1136.8 371.2,1130.5 372.5,1125 C373.8,1119.5 372.8,1120.1 378,1117.5 C383.2,1114.9 387.3,1114.1 395,1114 C402.7,1113.9 405.5,1114.7 411,1117 C416.5,1119.3 416.8,1116.3 418.5,1124 C420.2,1131.7 417,1143.2 418.5,1150 C420,1156.8 421.6,1151.8 425,1153 C428.4,1154.2 430,1152.9 433,1155 C436,1157.1 436.7,1158 438,1162 C439.3,1166 439,1167.8 438.5,1172 C438,1176.2 437.8,1177.2 436,1180 C434.2,1182.8 432.4,1181.7 431,1184 C429.6,1186.3 432.6,1187.2 430,1190 C427.4,1192.8 424.2,1194.1 420,1196 C415.8,1197.9 416.2,1198.5 412,1198 C407.8,1197.5 405.5,1193.5 402,1194 C398.5,1194.5 401,1198.6 397,1200 C393,1201.4 389.4,1201.2 385,1200 C380.6,1198.8 380.6,1198.3 378,1195 C375.4,1191.7 377.3,1189.5 374,1186 C370.7,1182.5 368.9,1182.8 364,1180 C359.1,1177.2 356.1,1179.1 353,1174 C349.9,1168.9 350,1163.4 350.5,1158 Z"/>
<ellipse class="hw" cx="395.5" cy="1125" rx="22.5" ry="10"/>
<ellipse class="h" cx="395.5" cy="1125.5" rx="14" ry="5.8"/>
<path class="k" d="M384,1128.5 Q395,1124 407,1128.5 Q395,1132.5 384,1128.5 Z"/>
<path class="o" d="M376,1130 L376,1141 L383,1143 L383,1151 L371,1148 L371,1160"/>
<path class="t" d="M383,1144 Q398,1148 418,1138"/>
<path class="o" d="M418,1128 L418,1178"/>
<path class="o" d="M351,1159 C352.8,1160.5 358.5,1165.3 362,1168 C365.5,1170.7 369.5,1172.8 372,1175 C374.5,1177.2 374.7,1179.7 377,1181 C379.3,1182.3 382.8,1183.2 386,1183 C389.2,1182.8 393.5,1179.8 396,1180 C398.5,1180.2 398.3,1183.3 401,1184 C403.7,1184.7 408.7,1184.8 412,1184 C415.3,1183.2 418.3,1180.8 421,1179 C423.7,1177.2 425.5,1174.8 428,1173 C430.5,1171.2 434.3,1169.8 436,1168 C437.7,1166.2 437.7,1163 438,1162"/>
<polyline class="o" points="377,1181 377,1194"/>
<polyline class="o" points="398,1182 398,1196"/>
<polyline class="o" points="428,1173 429.5,1188"/>
<path class="t" d="M355,1151 C356.2,1150.8 360.2,1149.2 362,1150 C363.8,1150.8 365.3,1155 366,1156"/>
<ellipse class="o" cx="359" cy="1156.5" rx="4.2" ry="2.5"/>
<ellipse class="o" cx="385" cy="1176.5" rx="4.2" ry="2.5"/>
<ellipse class="o" cx="410.5" cy="1176" rx="4.2" ry="2.5"/>
<ellipse class="o" cx="425" cy="1157.5" rx="4.2" ry="2.5"/>
<ellipse class="o" cx="425.5" cy="1167" rx="4.2" ry="2.5"/>
<ellipse class="hw" cx="392.5" cy="1227" rx="23" ry="10.8"/>
<path class="hw" d="M385,1279 L385,1300 Q392,1305 399.5,1300 L399.5,1279 Q392,1283 385,1279 Z"/>
<path class="hw" d="M388,1279 L388.5,1256 Q390,1252.5 392,1256 L392,1262 L394,1262 L394.5,1255 L398,1257 L397.5,1279"/>
<line class="t" x1="392" y1="1281.5" x2="392" y2="1303"/>
<path class="hw" d="M379,1330 L378,1352 Q381,1356 386,1356 L390,1359.5 L396,1359.5 L400,1356 Q405,1355 406.5,1351 L406,1329 Q405,1323 398,1321.5 L388,1321.5 Q380,1323 379,1330 Z"/>
<ellipse class="o" cx="392.5" cy="1328" rx="6.5" ry="4.2"/>
<line class="o" x1="383" y1="1334" x2="383" y2="1354"/>
<line class="o" x1="387" y1="1334" x2="387" y2="1354"/>
<line class="o" x1="390.5" y1="1334" x2="390.5" y2="1354"/>
<line class="o" x1="397.5" y1="1334" x2="397.5" y2="1354"/>
<line class="o" x1="401.5" y1="1334" x2="401.5" y2="1354"/>
<line class="o" x1="394" y1="1340" x2="394" y2="1348"/>
<line class="o" x1="390.5" y1="1344" x2="394" y2="1344"/>
<path class="hw" d="M372.5,1388 L372.5,1410 A19.5,9 0 0 0 411,1410 L411,1388"/>
<ellipse class="hw" cx="391.8" cy="1388" rx="19.3" ry="9.2"/>
<ellipse class="o" cx="392" cy="1388.5" rx="15" ry="6.8"/>
<line class="o" x1="383" y1="1385" x2="383" y2="1394"/>
<line class="o" x1="387.5" y1="1385" x2="387.5" y2="1394"/>
<line class="o" x1="392" y1="1385" x2="392" y2="1394"/>
<line class="o" x1="396.5" y1="1385" x2="396.5" y2="1394"/>
<line class="o" x1="401" y1="1385" x2="401" y2="1394"/>
<path class="o" d="M378,1391 Q392,1400 406,1391"/>
<ellipse class="o" cx="322" cy="1418" rx="7.8" ry="3.4" transform="rotate(3 322 1418)"/>
<ellipse class="o" cx="429.5" cy="1443.8" rx="7.5" ry="3.6" transform="rotate(3 429.5 1443.8)"/>
<path class="hw" d="M331,1463 C331,1459.7 330.2,1458.1 333,1455 C335.8,1451.9 342.1,1448.2 346,1446 C349.9,1443.8 351.1,1443.2 354,1443 C356.9,1442.8 347.7,1440 362,1445 C376.3,1450 418.1,1464.7 432,1470 C445.9,1475.3 436.6,1471.8 438,1474 C439.4,1476.2 439.4,1479.1 439.5,1482 C439.6,1484.9 439.5,1487.8 438.5,1490 C437.5,1492.2 434.9,1490.7 434,1494 C433.1,1497.3 434.6,1504.2 433.5,1508 C432.4,1511.8 430.8,1513.4 428,1515 C425.2,1516.6 421.3,1516.9 418,1516.5 C414.7,1516.1 412.6,1514.4 410,1513 C407.4,1511.6 405.8,1508.8 404,1509 C402.2,1509.2 402.2,1512.5 400,1514 C397.8,1515.5 395.1,1516.8 392,1517 C388.9,1517.2 385.2,1517 383,1515 C380.8,1513 382.4,1508.8 380,1506 C377.6,1503.2 374,1502.4 370,1500 C366,1497.6 361.5,1495.9 358,1493 C354.5,1490.1 353,1487.1 351,1484 C349,1480.9 350.3,1478 347,1476 C343.7,1474 335.9,1475.4 333,1473 C330.1,1470.6 331,1466.3 331,1463 Z"/>
<path class="o" d="M333,1463 C334.8,1462.7 340.8,1460.8 344,1461 C347.2,1461.2 350.8,1462.2 352,1464 C353.2,1465.8 351.8,1469.8 351,1472 C350.2,1474.2 347.7,1476.2 347,1477"/>
<path class="o" d="M347,1477 C347.8,1478.2 349.2,1482 352,1484 C354.8,1486 359.7,1487.3 364,1489 C368.3,1490.7 374.7,1492.2 378,1494 C381.3,1495.8 381.2,1498.8 384,1500 C386.8,1501.2 391.8,1501.5 395,1501 C398.2,1500.5 400.5,1497.2 403,1497 C405.5,1496.8 407.5,1499.2 410,1500 C412.5,1500.8 415,1502.5 418,1502 C421,1501.5 425.3,1499 428,1497 C430.7,1495 433,1491.2 434,1490"/>
<polyline class="o" points="383,1501 383,1514"/>
<polyline class="o" points="403,1498 403,1509"/>
<polyline class="o" points="420,1503 420,1516"/>
<ellipse class="o" cx="377.5" cy="1460" rx="5" ry="2.9" transform="rotate(5 377.5 1460)"/>
<ellipse class="o" cx="363" cy="1471" rx="5" ry="2.9" transform="rotate(5 363 1471)"/>
<ellipse class="o" cx="357.5" cy="1478.5" rx="5" ry="2.9" transform="rotate(5 357.5 1478.5)"/>
<ellipse class="o" cx="428" cy="1475.5" rx="5" ry="2.9" transform="rotate(5 428 1475.5)"/>
<ellipse class="o" cx="428.5" cy="1484.5" rx="5" ry="2.9" transform="rotate(5 428.5 1484.5)"/>
<ellipse class="o" cx="416.5" cy="1492" rx="5" ry="2.9" transform="rotate(5 416.5 1492)"/>
<ellipse class="o" cx="391" cy="1496.5" rx="5" ry="2.9" transform="rotate(5 391 1496.5)"/>
<path class="o" d="M377,1480 C378.2,1480.8 381.2,1484.1 384,1485 C386.8,1485.9 391,1486 394,1485.5 C397,1485 400.2,1483.4 402,1482 C403.8,1480.6 405.2,1478.3 405,1477 C404.8,1475.7 401.7,1474.5 401,1474"/>
<path class="o" d="M389,1475 C390.2,1474.8 393.8,1473.7 396,1474 C398.2,1474.3 401,1476.5 402,1477"/>
<path class="o" d="M381,1479 C382,1479.5 384.8,1481.6 387,1482 C389.2,1482.4 392.8,1481.6 394,1481.5"/>
<ellipse class="o" cx="428.5" cy="1506" rx="2.6" ry="3.6"/>
<polyline class="t" points="434,1493 427,1497 426,1514"/>
<path class="hw" d="M355.5,1519 Q358,1516 361,1519 L361,1531 L355.5,1531 Z"/>
<line class="t" x1="355.5" y1="1521.5" x2="361" y2="1522.3"/>
<line class="t" x1="355.5" y1="1524.5" x2="361" y2="1525.3"/>
<line class="t" x1="355.5" y1="1527.5" x2="361" y2="1528.3"/>
<ellipse class="hw" cx="358.3" cy="1535" rx="7.5" ry="4.8"/>
<ellipse class="o" cx="358.3" cy="1534" rx="4.2" ry="2.4"/>
<path class="o" d="M351,1536 Q358,1543 365.5,1536"/>
<path class="hw" d="M411.5,1530 Q416,1524.5 420.5,1530 L420.5,1554 L411.5,1554 Z"/>
<line class="o" x1="411.5" y1="1531" x2="420.5" y2="1532"/>
<line class="o" x1="411.5" y1="1534.5" x2="420.5" y2="1535.5"/>
<line class="o" x1="411.5" y1="1538" x2="420.5" y2="1539"/>
<line class="o" x1="411.5" y1="1541.5" x2="420.5" y2="1542.5"/>
<line class="o" x1="411.5" y1="1545" x2="420.5" y2="1546"/>
<line class="o" x1="411.5" y1="1548.5" x2="420.5" y2="1549.5"/>
<ellipse class="hw" cx="416" cy="1559" rx="9.5" ry="5"/>
<path class="hw" d="M409,1561 L410,1567 Q416,1571.5 422,1567 L423,1561"/>
<ellipse class="o" cx="416" cy="1557.5" rx="5" ry="2.6"/>
<line class="t" x1="413.5" y1="1563.5" x2="413.5" y2="1569"/>
<line class="t" x1="418.5" y1="1563.5" x2="418.5" y2="1569"/>

<!-- 14_right_top.svg -->
<g transform="rotate(1.8 796.5 171.5)">
<path class="hw" d="M664,171.5 A132.5,53 0 0 1 929,171.5 L929,190.5 A132.5,53 0 0 1 664,185.5 Z"/>
<line class="o" x1="664.4" y1="168.7" x2="663.2" y2="174.3"/>
<path class="o" d="M663,174.3 q1.6,2.4 3.2,0"/>
<line class="o" x1="665" y1="166.6" x2="663.8" y2="176.4"/>
<path class="o" d="M663.6,176.4 q1.6,2.4 3.2,0"/>
<line class="o" x1="665.7" y1="164.5" x2="664.5" y2="178"/>
<path class="o" d="M664.3,178 q1.6,2.4 3.2,0"/>
<line class="o" x1="666.7" y1="162.4" x2="665.5" y2="175.9"/>
<path class="o" d="M665.3,175.9 q1.6,2.4 3.2,0"/>
<line class="o" x1="667.9" y1="160.3" x2="666.7" y2="173.8"/>
<path class="o" d="M666.5,173.8 q1.6,2.4 3.2,0"/>
<line class="o" x1="669.2" y1="158.3" x2="668.1" y2="171.8"/>
<path class="o" d="M667.9,171.8 q1.6,2.4 3.2,0"/>
<line class="o" x1="670.8" y1="156.2" x2="669.7" y2="169.7"/>
<path class="o" d="M669.5,169.7 q1.6,2.4 3.2,0"/>
<line class="o" x1="672.6" y1="154.2" x2="671.5" y2="167.7"/>
<path class="o" d="M671.3,167.7 q1.6,2.4 3.2,0"/>
<line class="o" x1="674.6" y1="152.2" x2="673.5" y2="165.7"/>
<path class="o" d="M673.3,165.7 q1.6,2.4 3.2,0"/>
<line class="o" x1="676.8" y1="150.3" x2="675.7" y2="163.8"/>
<path class="o" d="M675.5,163.8 q1.6,2.4 3.2,0"/>
<line class="o" x1="679.2" y1="148.4" x2="678.1" y2="161.9"/>
<path class="o" d="M677.9,161.9 q1.6,2.4 3.2,0"/>
<line class="o" x1="681.8" y1="146.5" x2="680.7" y2="160"/>
<path class="o" d="M680.5,160 q1.6,2.4 3.2,0"/>
<line class="o" x1="684.5" y1="144.7" x2="683.5" y2="158.2"/>
<path class="o" d="M683.3,158.2 q1.6,2.4 3.2,0"/>
<line class="o" x1="687.5" y1="142.9" x2="686.5" y2="156.4"/>
<path class="o" d="M686.3,156.4 q1.6,2.4 3.2,0"/>
<line class="o" x1="690.6" y1="141.2" x2="689.6" y2="154.7"/>
<path class="o" d="M689.4,154.7 q1.6,2.4 3.2,0"/>
<line class="o" x1="693.9" y1="139.5" x2="692.9" y2="153"/>
<path class="o" d="M692.7,153 q1.6,2.4 3.2,0"/>
<line class="o" x1="697.3" y1="137.9" x2="696.4" y2="151.4"/>
<path class="o" d="M696.2,151.4 q1.6,2.4 3.2,0"/>
<line class="o" x1="700.9" y1="136.3" x2="700.1" y2="149.8"/>
<path class="o" d="M699.9,149.8 q1.6,2.4 3.2,0"/>
<line class="o" x1="704.7" y1="134.8" x2="703.9" y2="148.3"/>
<path class="o" d="M703.7,148.3 q1.6,2.4 3.2,0"/>
<line class="o" x1="708.6" y1="133.3" x2="707.8" y2="146.8"/>
<path class="o" d="M707.6,146.8 q1.6,2.4 3.2,0"/>
<line class="o" x1="712.7" y1="131.9" x2="711.9" y2="145.4"/>
<path class="o" d="M711.7,145.4 q1.6,2.4 3.2,0"/>
<line class="o" x1="716.9" y1="130.6" x2="716.2" y2="144.1"/>
<path class="o" d="M716,144.1 q1.6,2.4 3.2,0"/>
<line class="o" x1="721.2" y1="129.4" x2="720.5" y2="142.9"/>
<path class="o" d="M720.3,142.9 q1.6,2.4 3.2,0"/>
<line class="o" x1="725.7" y1="128.2" x2="725" y2="141.7"/>
<path class="o" d="M724.8,141.7 q1.6,2.4 3.2,0"/>
<line class="o" x1="730.2" y1="127.1" x2="729.6" y2="140.6"/>
<path class="o" d="M729.4,140.6 q1.6,2.4 3.2,0"/>
<line class="o" x1="734.9" y1="126.1" x2="734.4" y2="139.6"/>
<path class="o" d="M734.2,139.6 q1.6,2.4 3.2,0"/>
<line class="o" x1="739.7" y1="125.1" x2="739.2" y2="138.6"/>
<path class="o" d="M739,138.6 q1.6,2.4 3.2,0"/>
<line class="o" x1="744.6" y1="124.2" x2="744.1" y2="137.7"/>
<path class="o" d="M743.9,137.7 q1.6,2.4 3.2,0"/>
<line class="o" x1="749.5" y1="123.4" x2="749.1" y2="136.9"/>
<path class="o" d="M748.9,136.9 q1.6,2.4 3.2,0"/>
<line class="o" x1="754.5" y1="122.7" x2="754.2" y2="136.2"/>
<path class="o" d="M754,136.2 q1.6,2.4 3.2,0"/>
<line class="o" x1="759.6" y1="122.1" x2="759.3" y2="135.6"/>
<path class="o" d="M759.1,135.6 q1.6,2.4 3.2,0"/>
<line class="o" x1="764.8" y1="121.5" x2="764.5" y2="135"/>
<path class="o" d="M764.3,135 q1.6,2.4 3.2,0"/>
<line class="o" x1="770" y1="121.1" x2="769.8" y2="134.6"/>
<path class="o" d="M769.6,134.6 q1.6,2.4 3.2,0"/>
<line class="o" x1="775.2" y1="120.7" x2="775.1" y2="134.2"/>
<path class="o" d="M774.9,134.2 q1.6,2.4 3.2,0"/>
<line class="o" x1="780.5" y1="120.4" x2="780.4" y2="133.9"/>
<path class="o" d="M780.2,133.9 q1.6,2.4 3.2,0"/>
<line class="o" x1="785.8" y1="120.2" x2="785.7" y2="133.7"/>
<path class="o" d="M785.5,133.7 q1.6,2.4 3.2,0"/>
<line class="o" x1="791.2" y1="120" x2="791.1" y2="133.5"/>
<path class="o" d="M790.9,133.5 q1.6,2.4 3.2,0"/>
<line class="o" x1="796.5" y1="120" x2="796.5" y2="133.5"/>
<path class="o" d="M796.3,133.5 q1.6,2.4 3.2,0"/>
<line class="o" x1="801.8" y1="120" x2="801.9" y2="133.5"/>
<path class="o" d="M801.7,133.5 q1.6,2.4 3.2,0"/>
<line class="o" x1="807.2" y1="120.2" x2="807.3" y2="133.7"/>
<path class="o" d="M807.1,133.7 q1.6,2.4 3.2,0"/>
<line class="o" x1="812.5" y1="120.4" x2="812.6" y2="133.9"/>
<path class="o" d="M812.4,133.9 q1.6,2.4 3.2,0"/>
<line class="o" x1="817.8" y1="120.7" x2="817.9" y2="134.2"/>
<path class="o" d="M817.7,134.2 q1.6,2.4 3.2,0"/>
<line class="o" x1="823" y1="121.1" x2="823.2" y2="134.6"/>
<path class="o" d="M823,134.6 q1.6,2.4 3.2,0"/>
<line class="o" x1="828.2" y1="121.5" x2="828.5" y2="135"/>
<path class="o" d="M828.3,135 q1.6,2.4 3.2,0"/>
<line class="o" x1="833.4" y1="122.1" x2="833.7" y2="135.6"/>
<path class="o" d="M833.5,135.6 q1.6,2.4 3.2,0"/>
<line class="o" x1="838.5" y1="122.7" x2="838.8" y2="136.2"/>
<path class="o" d="M838.6,136.2 q1.6,2.4 3.2,0"/>
<line class="o" x1="843.5" y1="123.4" x2="843.9" y2="136.9"/>
<path class="o" d="M843.7,136.9 q1.6,2.4 3.2,0"/>
<line class="o" x1="848.4" y1="124.2" x2="848.9" y2="137.7"/>
<path class="o" d="M848.7,137.7 q1.6,2.4 3.2,0"/>
<line class="o" x1="853.3" y1="125.1" x2="853.8" y2="138.6"/>
<path class="o" d="M853.6,138.6 q1.6,2.4 3.2,0"/>
<line class="o" x1="858.1" y1="126.1" x2="858.6" y2="139.6"/>
<path class="o" d="M858.4,139.6 q1.6,2.4 3.2,0"/>
<line class="o" x1="862.8" y1="127.1" x2="863.4" y2="140.6"/>
<path class="o" d="M863.1,140.6 q1.6,2.4 3.2,0"/>
<line class="o" x1="867.3" y1="128.2" x2="868" y2="141.7"/>
<path class="o" d="M867.8,141.7 q1.6,2.4 3.2,0"/>
<line class="o" x1="871.8" y1="129.4" x2="872.5" y2="142.9"/>
<path class="o" d="M872.3,142.9 q1.6,2.4 3.2,0"/>
<line class="o" x1="876.1" y1="130.6" x2="876.8" y2="144.1"/>
<path class="o" d="M876.6,144.1 q1.6,2.4 3.2,0"/>
<line class="o" x1="880.3" y1="131.9" x2="881.1" y2="145.4"/>
<path class="o" d="M880.9,145.4 q1.6,2.4 3.2,0"/>
<line class="o" x1="884.4" y1="133.3" x2="885.2" y2="146.8"/>
<path class="o" d="M885,146.8 q1.6,2.4 3.2,0"/>
<line class="o" x1="888.3" y1="134.8" x2="889.1" y2="148.3"/>
<path class="o" d="M888.9,148.3 q1.6,2.4 3.2,0"/>
<line class="o" x1="892.1" y1="136.3" x2="892.9" y2="149.8"/>
<path class="o" d="M892.7,149.8 q1.6,2.4 3.2,0"/>
<line class="o" x1="895.7" y1="137.9" x2="896.6" y2="151.4"/>
<path class="o" d="M896.4,151.4 q1.6,2.4 3.2,0"/>
<line class="o" x1="899.1" y1="139.5" x2="900.1" y2="153"/>
<path class="o" d="M899.9,153 q1.6,2.4 3.2,0"/>
<line class="o" x1="902.4" y1="141.2" x2="903.4" y2="154.7"/>
<path class="o" d="M903.2,154.7 q1.6,2.4 3.2,0"/>
<line class="o" x1="905.5" y1="142.9" x2="906.5" y2="156.4"/>
<path class="o" d="M906.3,156.4 q1.6,2.4 3.2,0"/>
<line class="o" x1="908.5" y1="144.7" x2="909.5" y2="158.2"/>
<path class="o" d="M909.3,158.2 q1.6,2.4 3.2,0"/>
<line class="o" x1="911.2" y1="146.5" x2="912.3" y2="160"/>
<path class="o" d="M912.1,160 q1.6,2.4 3.2,0"/>
<line class="o" x1="913.8" y1="148.4" x2="914.9" y2="161.9"/>
<path class="o" d="M914.7,161.9 q1.6,2.4 3.2,0"/>
<line class="o" x1="916.2" y1="150.3" x2="917.3" y2="163.8"/>
<path class="o" d="M917.1,163.8 q1.6,2.4 3.2,0"/>
<line class="o" x1="918.4" y1="152.2" x2="919.5" y2="165.7"/>
<path class="o" d="M919.3,165.7 q1.6,2.4 3.2,0"/>
<line class="o" x1="920.4" y1="154.2" x2="921.5" y2="167.7"/>
<path class="o" d="M921.3,167.7 q1.6,2.4 3.2,0"/>
<line class="o" x1="922.2" y1="156.2" x2="923.3" y2="169.7"/>
<path class="o" d="M923.1,169.7 q1.6,2.4 3.2,0"/>
<line class="o" x1="923.8" y1="158.3" x2="924.9" y2="171.8"/>
<path class="o" d="M924.7,171.8 q1.6,2.4 3.2,0"/>
<line class="o" x1="925.1" y1="160.3" x2="926.3" y2="173.8"/>
<path class="o" d="M926.1,173.8 q1.6,2.4 3.2,0"/>
<line class="o" x1="926.3" y1="162.4" x2="927.5" y2="175.9"/>
<path class="o" d="M927.3,175.9 q1.6,2.4 3.2,0"/>
<line class="o" x1="927.3" y1="164.5" x2="928.5" y2="178"/>
<path class="o" d="M928.3,178 q1.6,2.4 3.2,0"/>
<line class="o" x1="928" y1="166.6" x2="929.2" y2="176.4"/>
<path class="o" d="M929,176.4 q1.6,2.4 3.2,0"/>
<line class="o" x1="928.6" y1="168.7" x2="929.8" y2="174.3"/>
<path class="o" d="M929.6,174.3 q1.6,2.4 3.2,0"/>
<ellipse class="h" cx="796.5" cy="171.5" rx="132.5" ry="53"/>
<path class="o" d="M666,174 A130.5,52.5 0 0 0 927,174" stroke-dasharray="3.5 2.5"/>
</g>
<ellipse class="h" cx="884.7" cy="387.2" rx="14.5" ry="19.2" transform="rotate(-14 884.7 387.2)"/>
<ellipse class="h" cx="757" cy="463.3" rx="8.6" ry="12.2" transform="rotate(-20 757 463.3)"/>
<g transform="translate(789,446) rotate(-30)">
<path class="hw" d="M44,-16.5 L57,-16.5 A7.5,16.5 0 0 1 57,16.5 L44,16.5 A7.5,16.5 0 0 1 44,-16.5 Z"/>
<path class="h" d="M49,-16.5 A7.5,16.5 0 0 1 49,16.5"/>
<path class="o" d="M53,-16.5 A7.5,16.5 0 0 1 53,16.5"/>
<path class="hw" d="M16,-12.5 L46,-12.5 A5.5,12.5 0 0 1 46,12.5 L16,12.5 Z"/>
<line class="o" x1="22" y1="-9.5" x2="50" y2="-9.5"/>
<line class="o" x1="22" y1="-6.5" x2="50" y2="-6.5"/>
<line class="o" x1="22" y1="-3.5" x2="50" y2="-3.5"/>
<line class="o" x1="22" y1="-0.5" x2="50" y2="-0.5"/>
<line class="o" x1="22" y1="2.5" x2="50" y2="2.5"/>
<line class="o" x1="22" y1="5.5" x2="50" y2="5.5"/>
<line class="o" x1="22" y1="8.5" x2="50" y2="8.5"/>
<path class="hw" d="M0,-17.5 L16,-17.5 A8,17.5 0 0 1 16,17.5 L0,17.5 A8,17.5 0 0 1 0,-17.5 Z"/>
<ellipse class="hw" cx="0" cy="0" rx="8" ry="17.5"/>
<path class="h" d="M8,-17.5 A8,17.5 0 0 1 8,17.5"/>
<ellipse class="o" cx="-0.5" cy="0" rx="5" ry="11.5"/>
<ellipse class="h" cx="-1" cy="0" rx="2.2" ry="4.6"/>
</g>
<ellipse class="hw" cx="958" cy="346" rx="21" ry="27" transform="rotate(-20 958 346)"/>
<ellipse class="hw" cx="955" cy="348" rx="20" ry="26" transform="rotate(-20 955 348)"/>
<path class="o" d="M936,334 L940,328 L968,322 L975,330"/>
<ellipse class="hw" cx="949" cy="350" rx="14.5" ry="19" transform="rotate(-20 949 350)"/>
<ellipse class="hw" cx="946" cy="352" rx="13.5" ry="17.5" transform="rotate(-20 946 352)"/>
<ellipse class="h" cx="949" cy="351" rx="8" ry="12" transform="rotate(-20 949 351)"/>
<ellipse class="o" cx="950" cy="351" rx="3.2" ry="5" transform="rotate(-20 950 351)"/>
<path class="hw" d="M941,365 L946,372 L953,369 L952,360"/>
<line class="o" x1="950" y1="339" x2="950" y2="346"/>
<line class="o" x1="953" y1="356" x2="958" y2="362"/>
<line class="o" x1="955" y1="347" x2="963" y2="347"/>
<path class="h" d="M962,335 L971,345 L969,358"/>
<g transform="translate(628,534) rotate(-27)">
<path class="hw" d="M-14,-20 L56,-22.5 A9,22.5 0 0 1 56,22.5 L8,21 Z"/>
<path class="hw" d="M51,-25.5 L59,-25.5 A10,25.5 0 0 1 59,25.5 L51,25.5 A10,25.5 0 0 0 51,-25.5 Z"/>
<path class="o" d="M55,-25.5 A10,25.5 0 0 1 55,25.5"/>
<path class="o" d="M40,-22 A9,22 0 0 1 40,22"/>
<path class="o" d="M2,-8 Q14,-18 26,-12 Q33,-4 28,6 Q24,12 18,15"/>
</g>
<path class="hw" d="M579.8,525.5 C580.6,523.5 580.5,524.1 583.5,523 C586.5,521.9 588.8,519.9 594.8,519.9 C600.8,519.9 607.8,521.9 613.5,523 C619.2,524.1 620.2,524 623.5,525.5 C626.8,527 627.8,527.5 629.8,530.5 C631.8,533.5 630.8,537 633.5,540.5 C636.2,544 639.8,545.5 643.5,548 C647.2,550.5 650,550.5 652.2,553 C654.5,555.5 655,557.5 654.8,560.5 C654.5,563.5 653.8,566 651,568 C648.2,570 644.5,570.2 641,570.5 C637.5,570.8 636.8,570.2 633.5,569.2 C630.2,568.2 628,565.8 624.8,565.5 C621.5,565.2 620,567.2 617.2,568 C614.5,568.8 614.2,570.8 611,569.2 C607.8,567.8 604.2,564.8 601,560.5 C597.8,556.2 598.2,551.8 594.8,548 C591.2,544.2 586.6,544.8 583.5,541.8 C580.4,538.8 579.9,536.2 579.1,533 C578.4,529.8 578.9,527.5 579.8,525.5 Z"/>
<path class="hw" d="M576.2,525 C577.1,523 577,523.6 580,522.5 C583,521.4 585.2,519.4 591.2,519.4 C597.2,519.4 604.2,521.4 610,522.5 C615.8,523.6 616.8,523.5 620,525 C623.2,526.5 624.2,527 626.2,530 C628.2,533 627.2,536.5 630,540 C632.8,543.5 636.2,545 640,547.5 C643.8,550 646.5,550 648.8,552.5 C651,555 651.5,557 651.2,560 C651,563 650.2,565.5 647.5,567.5 C644.8,569.5 641,569.8 637.5,570 C634,570.2 633.2,569.8 630,568.8 C626.8,567.8 624.5,565.2 621.2,565 C618,564.8 616.5,566.8 613.8,567.5 C611,568.2 610.8,570.2 607.5,568.8 C604.2,567.2 600.8,564.2 597.5,560 C594.2,555.8 594.8,551.2 591.2,547.5 C587.8,543.8 583.1,544.2 580,541.2 C576.9,538.2 576.4,535.8 575.6,532.5 C574.9,529.2 575.4,527 576.2,525 Z"/>
<ellipse class="h" cx="584.4" cy="534.4" rx="3.4" ry="4.8" transform="rotate(-25 584.4 534.4)"/>
<ellipse class="h" cx="620.6" cy="537.5" rx="3.4" ry="4.8" transform="rotate(-25 620.6 537.5)"/>
<ellipse class="h" cx="605.6" cy="551.2" rx="3.4" ry="4.8" transform="rotate(-25 605.6 551.2)"/>
<ellipse class="h" cx="634.4" cy="559.4" rx="3.4" ry="4.8" transform="rotate(-25 634.4 559.4)"/>
<polyline class="o" points="583,522.5 594,524"/>
<ellipse class="h" cx="598.5" cy="583.8" rx="4.2" ry="5.4" transform="rotate(-20 598.5 583.8)"/>
<g transform="translate(720,514) rotate(-22)">
<path class="hw" d="M0,-4 L22,-4 L22,4 L0,4 Q-3,0 0,-4 Z"/>
<line class="o" x1="1" y1="-4" x2="3" y2="4"/>
<line class="o" x1="4.5" y1="-4" x2="6.5" y2="4"/>
<line class="o" x1="8" y1="-4" x2="10" y2="4"/>
<line class="o" x1="11.5" y1="-4" x2="13.5" y2="4"/>
<line class="o" x1="15" y1="-4" x2="17" y2="4"/>
<line class="o" x1="18.5" y1="-4" x2="20.5" y2="4"/>
<ellipse class="hw" cx="24" cy="0" rx="4" ry="8"/>
<path class="hw" d="M26,-7.5 L33,-7 Q38,0 33,7 L26,7.5"/>
<ellipse class="hw" cx="33.5" cy="0" rx="3.2" ry="6.5"/>
<line class="t" x1="27" y1="-3" x2="33" y2="-3"/>
<line class="t" x1="27" y1="3" x2="33" y2="3"/>
</g>
<g transform="translate(612,644) rotate(32.2)">
<path class="hw" d="M0,-3.4 L76.9,-3.4 L76.9,3.4 L0,3.4 Q-3,0 0,-3.4 Z"/>
<path class="o" d="M68.9,-4.9 Q65.9,0 68.9,4.9"/>
</g>
<ellipse class="hw" cx="677" cy="685" rx="14.5" ry="17.5" transform="rotate(25 677 685)"/>
<polyline class="o" points="685.1,680.1 685.5,680.8 685.8,681.5 686,682.2 686.2,683 686.3,683.8 686.3,684.6 686.3,685.4 686.2,686.2 686,687 685.8,687.8 685.6,688.6 685.2,689.4 684.8,690.1 684.4,690.8 683.9,691.5 683.4,692.2 682.8,692.7 682.2,693.3 681.6,693.8 680.9,694.2 680.2,694.6 679.5,694.8 678.8,695.1 678.1,695.2"/>
<polyline class="o" points="671.7,693 671.3,692.5 670.9,691.9 670.5,691.2 670.2,690.5 670,689.8 669.8,689 669.7,688.2 669.7,687.4 669.7,686.6 669.8,685.8 670,685 670.2,684.2 670.4,683.4 670.8,682.6 671.2,681.9 671.6,681.2 672.1,680.5 672.6,679.8 673.2,679.3 673.8,678.7 674.4,678.2 675.1,677.8 675.8,677.4 676.5,677.2"/>
<g transform="translate(567.5,670.5) rotate(35)">
<path class="hw" d="M0,-3.6 L81.8,-3.6 L81.8,3.6 L0,3.6 Q-3,0 0,-3.6 Z"/>
<path class="o" d="M73.8,-5.1 Q70.8,0 73.8,5.1"/>
</g>
<ellipse class="hw" cx="634.5" cy="717.5" rx="18.7" ry="21.5" transform="rotate(25 634.5 717.5)"/>
<polyline class="o" points="644.5,711.4 644.9,712.2 645.3,713.1 645.6,714 645.9,714.9 646,715.9 646.1,716.9 646.1,717.9 646,718.9 645.8,719.9 645.5,720.9 645.2,721.9 644.8,722.8 644.4,723.8 643.8,724.6 643.2,725.5 642.5,726.2 641.8,727 641.1,727.6 640.3,728.2 639.4,728.7 638.6,729.2 637.7,729.5 636.8,729.8 635.8,730"/>
<polyline class="o" points="627.6,727.1 627,726.4 626.5,725.6 626.1,724.8 625.7,723.9 625.4,723 625.1,722.1 625,721.1 624.9,720.1 624.9,719.1 625,718.1 625.2,717.1 625.5,716.1 625.8,715.1 626.2,714.2 626.6,713.2 627.2,712.4 627.8,711.5 628.5,710.8 629.2,710 629.9,709.4 630.7,708.8 631.6,708.3 632.4,707.8 633.3,707.5"/>

<!-- 15_right_col.svg -->
<path class="hw" d="M949.5,567 L951,575 L962,585 L986,584 L1000,574 L1000.5,565"/>
<polygon class="hw" points="949.5,567 960,554.5 987.5,552.5 1000.5,565 987,575 962.5,577"/>
<line class="o" x1="962.5" y1="577" x2="962" y2="585"/>
<line class="o" x1="987" y1="575" x2="986" y2="584"/>
<ellipse class="hw" cx="976" cy="563.5" rx="16" ry="8.6"/>
<ellipse class="o" cx="976" cy="564.5" rx="12" ry="6"/>
<ellipse class="o" cx="976" cy="566" rx="8" ry="3.6"/>
<path class="t" d="M965,561 Q976,556 988,561"/>
<line class="t" x1="972" y1="559" x2="981" y2="562"/>
<line class="t" x1="976" y1="557" x2="976" y2="566"/>
<path class="hw" d="M937.5,624 C937.2,618.1 936.3,617.5 941,613 C945.7,608.5 945.9,609 955,607 C964.1,605 965.1,605.2 975,605.5 C984.9,605.8 985.3,605.7 992,608 C998.7,610.3 998.1,610.5 1000,614 C1001.9,617.5 997.7,618.1 999,621 C1000.3,623.9 1003.7,622.1 1005,625 C1006.3,627.9 1006.9,628.3 1004,632 C1001.1,635.7 1001.7,635.9 994,639 C986.3,642.1 985.4,642.7 975,643.5 C964.6,644.3 963.8,644.3 955,642 C946.2,639.7 946.7,639.8 942,635 C937.3,630.2 937.8,629.9 937.5,624 Z"/>
<ellipse class="hw" cx="971.5" cy="622.5" rx="21.5" ry="10.8" transform="rotate(-3 971.5 622.5)"/>
<polyline class="t" points="952.7,623.4 953.2,622.4 953.9,621.4 954.8,620.4 956,619.4 957.4,618.6 958.9,617.8 960.7,617 962.6,616.4 964.6,615.9 966.7,615.5 968.8,615.2 971,615 973.2,615 975.4,615 977.5,615.2 979.6,615.5 981.5,615.9 983.3,616.5 985,617.1 986.4,617.8 987.7,618.6 988.7,619.5 989.5,620.5 990.1,621.5"/>
<path class="hw" d="M928.3,684.5 L928.3,688.5 A42.7,20.5 0 0 0 1013.7,688.5 L1013.7,684.5"/>
<ellipse class="hw" cx="971" cy="684.5" rx="42.7" ry="20.5"/>
<polyline class="o" points="1006.7,691.5 1005.1,693.2 1003.2,694.8 1000.9,696.3 998.3,697.7 995.3,698.9 992.1,700.1 988.7,701 985,701.8 981.2,702.4 977.3,702.8 973.3,703 969.3,703 965.4,702.8 961.4,702.4 957.6,701.9 953.9,701.1 950.5,700.2 947.2,699.1 944.2,697.9 941.5,696.6 939.2,695.1 937.2,693.5 935.5,691.8 934.3,690"/>
<ellipse class="hw" cx="970" cy="683.5" rx="21.5" ry="10.5"/>
<polyline class="t" points="952.1,683.8 952.4,682.8 953,681.9 953.9,681 955,680.1 956.3,679.3 957.8,678.6 959.6,678 961.5,677.5 963.5,677 965.6,676.7 967.8,676.6 970,676.5 972.2,676.6 974.4,676.7 976.5,677 978.5,677.5 980.4,678 982.2,678.6 983.7,679.3 985,680.1 986.1,681 987,681.9 987.6,682.8 987.9,683.8"/>
<polyline class="h" points="941.8,678.6 942,678.4 942.3,678.1 942.5,677.8 942.7,677.6 943,677.3 943.3,677.1 943.6,676.8 943.8,676.5 944.2,676.3 944.5,676 944.8,675.8 945.1,675.6 945.5,675.3 945.8,675.1 946.2,674.9 946.6,674.6 947,674.4 947.4,674.2 947.8,674 948.2,673.8 948.6,673.5 949,673.3 949.5,673.1 949.9,672.9"/>
<polyline class="h" points="954.1,671.5 954.5,671.3 955,671.2 955.5,671.1 955.9,671 956.4,670.8 956.8,670.7 957.3,670.6 957.8,670.5 958.3,670.4 958.8,670.3 959.2,670.2 959.7,670.2 960.2,670.1 960.7,670 961.2,669.9 961.7,669.9 962.2,669.8 962.7,669.7 963.3,669.7 963.8,669.6 964.3,669.6 964.8,669.5 965.3,669.5 965.8,669.4"/>
<polyline class="h" points="972.6,669.4 973.3,669.4 973.9,669.4 974.6,669.5 975.2,669.5 975.9,669.6 976.5,669.6 977.1,669.7 977.8,669.8 978.4,669.9 979,670 979.6,670.1 980.3,670.2 980.9,670.3 981.5,670.4 982.1,670.5 982.7,670.6 983.3,670.8 983.9,670.9 984.4,671.1 985,671.2 985.6,671.4 986.1,671.5 986.7,671.7 987.2,671.9"/>
<polyline class="h" points="992.3,674 992.5,674.1 992.8,674.3 993,674.4 993.3,674.5 993.5,674.7 993.7,674.8 993.9,674.9 994.2,675.1 994.4,675.2 994.6,675.4 994.8,675.5 995,675.7 995.2,675.8 995.4,676 995.6,676.1 995.8,676.3 996,676.4 996.2,676.6 996.4,676.7 996.5,676.9 996.7,677 996.9,677.2 997,677.3 997.2,677.5"/>
<polyline class="h" points="999,679.8 999,680 999.1,680.1 999.2,680.2 999.3,680.3 999.3,680.5 999.4,680.6 999.4,680.7 999.5,680.9 999.5,681 999.6,681.1 999.6,681.3 999.7,681.4 999.7,681.5 999.7,681.7 999.8,681.8 999.8,681.9 999.8,682.1 999.9,682.2 999.9,682.3 999.9,682.5 999.9,682.6 1000,682.7 1000,682.9 1000,683"/>
<polyline class="h" points="999.7,685.5 999.7,685.6 999.6,685.8 999.5,686 999.5,686.2 999.4,686.3 999.3,686.5 999.2,686.7 999.2,686.9 999.1,687 999,687.2 998.9,687.4 998.8,687.5 998.7,687.7 998.5,687.9 998.4,688 998.3,688.2 998.2,688.4 998.1,688.5 997.9,688.7 997.8,688.9 997.6,689 997.5,689.2 997.3,689.3 997.2,689.5"/>
<polyline class="h" points="993,692.6 992.5,692.9 992,693.2 991.4,693.4 990.9,693.7 990.3,693.9 989.8,694.2 989.2,694.4 988.6,694.6 988,694.9 987.4,695.1 986.8,695.3 986.1,695.5 985.5,695.7 984.8,695.8 984.1,696 983.5,696.2 982.8,696.3 982.1,696.5 981.4,696.6 980.7,696.8 980,696.9 979.2,697 978.5,697.1 977.8,697.2"/>
<polyline class="h" points="969,697.7 968.1,697.7 967.3,697.6 966.5,697.6 965.7,697.6 964.8,697.5 964,697.4 963.2,697.3 962.4,697.2 961.6,697.1 960.8,697 960,696.9 959.2,696.8 958.5,696.6 957.7,696.5 957,696.3 956.2,696.1 955.5,695.9 954.8,695.7 954.1,695.5 953.4,695.3 952.7,695.1 952,694.9 951.4,694.6 950.7,694.4"/>
<polyline class="h" points="944,690.6 943.8,690.4 943.6,690.2 943.4,690.1 943.2,689.9 943,689.7 942.8,689.5 942.6,689.3 942.5,689.1 942.3,688.9 942.1,688.7 942,688.6 941.8,688.4 941.7,688.2 941.5,688 941.4,687.8 941.3,687.6 941.1,687.4 941,687.2 940.9,687 940.8,686.8 940.7,686.6 940.6,686.4 940.5,686.2 940.5,686"/>
<path class="hw" d="M929.3,842 L929.3,846 A42.7,20.5 0 0 0 1014.7,846 L1014.7,842"/>
<ellipse class="hw" cx="972" cy="842" rx="42.7" ry="20.5"/>
<polyline class="o" points="1007.7,849 1006.1,850.7 1004.2,852.3 1001.9,853.8 999.3,855.2 996.3,856.4 993.1,857.6 989.7,858.5 986,859.3 982.2,859.9 978.3,860.3 974.3,860.5 970.3,860.5 966.4,860.3 962.4,859.9 958.6,859.4 954.9,858.6 951.5,857.7 948.2,856.6 945.2,855.4 942.5,854.1 940.2,852.6 938.2,851 936.5,849.3 935.3,847.5"/>
<ellipse class="hw" cx="971" cy="841" rx="21.5" ry="10.5"/>
<polyline class="t" points="953.1,841.3 953.4,840.3 954,839.4 954.9,838.5 956,837.6 957.3,836.8 958.8,836.1 960.6,835.5 962.5,835 964.5,834.5 966.6,834.2 968.8,834.1 971,834 973.2,834.1 975.4,834.2 977.5,834.5 979.5,835 981.4,835.5 983.2,836.1 984.7,836.8 986,837.6 987.1,838.5 988,839.4 988.6,840.3 988.9,841.3"/>
<polyline class="h" points="942.8,836.1 943,835.9 943.3,835.6 943.5,835.3 943.7,835.1 944,834.8 944.3,834.6 944.6,834.3 944.8,834 945.2,833.8 945.5,833.5 945.8,833.3 946.1,833.1 946.5,832.8 946.8,832.6 947.2,832.4 947.6,832.1 948,831.9 948.4,831.7 948.8,831.5 949.2,831.3 949.6,831 950,830.8 950.5,830.6 950.9,830.4"/>
<polyline class="h" points="955.1,829 955.5,828.8 956,828.7 956.5,828.6 956.9,828.5 957.4,828.3 957.8,828.2 958.3,828.1 958.8,828 959.3,827.9 959.8,827.8 960.2,827.7 960.7,827.7 961.2,827.6 961.7,827.5 962.2,827.4 962.7,827.4 963.2,827.3 963.7,827.2 964.3,827.2 964.8,827.1 965.3,827.1 965.8,827 966.3,827 966.8,826.9"/>
<polyline class="h" points="973.6,826.9 974.3,826.9 974.9,826.9 975.6,827 976.2,827 976.9,827.1 977.5,827.1 978.1,827.2 978.8,827.3 979.4,827.4 980,827.5 980.6,827.6 981.3,827.7 981.9,827.8 982.5,827.9 983.1,828 983.7,828.1 984.3,828.3 984.9,828.4 985.4,828.6 986,828.7 986.6,828.9 987.1,829 987.7,829.2 988.2,829.4"/>
<polyline class="h" points="993.3,831.5 993.5,831.6 993.8,831.8 994,831.9 994.3,832 994.5,832.2 994.7,832.3 994.9,832.4 995.2,832.6 995.4,832.7 995.6,832.9 995.8,833 996,833.2 996.2,833.3 996.4,833.5 996.6,833.6 996.8,833.8 997,833.9 997.2,834.1 997.4,834.2 997.5,834.4 997.7,834.5 997.9,834.7 998,834.8 998.2,835"/>
<polyline class="h" points="1000,837.3 1000,837.5 1000.1,837.6 1000.2,837.7 1000.3,837.8 1000.3,838 1000.4,838.1 1000.4,838.2 1000.5,838.4 1000.5,838.5 1000.6,838.6 1000.6,838.8 1000.7,838.9 1000.7,839 1000.7,839.2 1000.8,839.3 1000.8,839.4 1000.8,839.6 1000.9,839.7 1000.9,839.8 1000.9,840 1000.9,840.1 1001,840.2 1001,840.4 1001,840.5"/>
<polyline class="h" points="1000.7,843 1000.7,843.1 1000.6,843.3 1000.5,843.5 1000.5,843.7 1000.4,843.8 1000.3,844 1000.2,844.2 1000.2,844.4 1000.1,844.5 1000,844.7 999.9,844.9 999.8,845 999.7,845.2 999.5,845.4 999.4,845.5 999.3,845.7 999.2,845.9 999.1,846 998.9,846.2 998.8,846.4 998.6,846.5 998.5,846.7 998.3,846.8 998.2,847"/>
<polyline class="h" points="994,850.1 993.5,850.4 993,850.7 992.4,850.9 991.9,851.2 991.3,851.4 990.8,851.7 990.2,851.9 989.6,852.1 989,852.4 988.4,852.6 987.8,852.8 987.1,853 986.5,853.2 985.8,853.3 985.1,853.5 984.5,853.7 983.8,853.8 983.1,854 982.4,854.1 981.7,854.3 981,854.4 980.2,854.5 979.5,854.6 978.8,854.7"/>
<polyline class="h" points="970,855.2 969.1,855.2 968.3,855.1 967.5,855.1 966.7,855.1 965.8,855 965,854.9 964.2,854.8 963.4,854.7 962.6,854.6 961.8,854.5 961,854.4 960.2,854.3 959.5,854.1 958.7,854 958,853.8 957.2,853.6 956.5,853.4 955.8,853.2 955.1,853 954.4,852.8 953.7,852.6 953,852.4 952.4,852.1 951.7,851.9"/>
<polyline class="h" points="945,848.1 944.8,847.9 944.6,847.7 944.4,847.6 944.2,847.4 944,847.2 943.8,847 943.6,846.8 943.5,846.6 943.3,846.4 943.1,846.2 943,846.1 942.8,845.9 942.7,845.7 942.5,845.5 942.4,845.3 942.3,845.1 942.1,844.9 942,844.7 941.9,844.5 941.8,844.3 941.7,844.1 941.6,843.9 941.5,843.7 941.5,843.5"/>
<path class="hw" d="M933,757 L933,774 A39,19.5 0 0 0 1011,774 L1011,757 Z"/>
<polygon class="hw" points="1012.4,757 1012.1,757.6 1011.4,758.1 1010.4,758.7 1009.6,759.2 1009.3,759.7 1009.3,760.2 1009.8,760.8 1010.4,761.5 1010.8,762.1 1010.7,762.7 1010.1,763.2 1009.1,763.6 1007.9,764 1006.9,764.4 1006.2,764.8 1006,765.4 1006.1,766 1006.3,766.7 1006.3,767.4 1006,767.9 1005.1,768.3 1003.9,768.6 1002.6,768.8 1001.3,769 1000.4,769.3 999.9,769.8 999.7,770.4 999.5,771.1 999.1,771.8 998.4,772.3 997.4,772.5 996.1,772.6 994.7,772.6 993.4,772.6 992.3,772.8 991.6,773.2 991,773.8 990.4,774.4 989.7,775 988.8,775.4 987.6,775.5 986.3,775.4 985,775.2 983.7,775 982.6,775.1 981.6,775.3 980.7,775.8 979.8,776.3 978.8,776.8 977.7,777 976.6,776.9 975.4,776.6 974.2,776.3 973.1,775.9 972,775.8 970.9,775.9 969.8,776.3 968.6,776.6 967.4,776.9 966.3,777 965.2,776.8 964.2,776.3 963.3,775.8 962.4,775.3 961.4,775.1 960.3,775 959,775.2 957.7,775.4 956.4,775.5 955.2,775.4 954.3,775 953.6,774.4 953,773.8 952.4,773.2 951.7,772.8 950.6,772.6 949.3,772.6 947.9,772.6 946.6,772.5 945.6,772.3 944.9,771.8 944.5,771.1 944.3,770.4 944.1,769.8 943.6,769.3 942.7,769 941.4,768.8 940.1,768.6 938.9,768.3 938,767.9 937.7,767.4 937.7,766.7 937.9,766 938,765.4 937.8,764.8 937.1,764.4 936.1,764 934.9,763.6 933.9,763.2 933.3,762.7 933.2,762.1 933.6,761.5 934.2,760.8 934.7,760.2 934.7,759.7 934.4,759.2 933.6,758.7 932.6,758.1 931.9,757.6 931.6,757 931.9,756.4 932.6,755.9 933.6,755.3 934.4,754.8 934.7,754.3 934.7,753.8 934.2,753.2 933.6,752.5 933.2,751.9 933.3,751.3 933.9,750.8 934.9,750.4 936.1,750 937.1,749.6 937.8,749.2 938,748.6 937.9,748 937.7,747.3 937.7,746.6 938,746.1 938.9,745.7 940.1,745.4 941.4,745.2 942.7,745 943.6,744.7 944.1,744.2 944.3,743.6 944.5,742.9 944.9,742.2 945.6,741.7 946.6,741.5 947.9,741.4 949.3,741.4 950.6,741.4 951.7,741.2 952.4,740.8 953,740.2 953.6,739.6 954.3,739 955.2,738.6 956.4,738.5 957.7,738.6 959,738.8 960.3,739 961.4,738.9 962.4,738.7 963.3,738.2 964.2,737.7 965.2,737.2 966.3,737 967.4,737.1 968.6,737.4 969.8,737.7 970.9,738.1 972,738.2 973.1,738.1 974.2,737.7 975.4,737.4 976.6,737.1 977.7,737 978.8,737.2 979.8,737.7 980.7,738.2 981.6,738.7 982.6,738.9 983.7,739 985,738.8 986.3,738.6 987.6,738.5 988.8,738.6 989.7,739 990.4,739.6 991,740.2 991.6,740.8 992.3,741.2 993.4,741.4 994.7,741.4 996.1,741.4 997.4,741.5 998.4,741.7 999.1,742.2 999.5,742.9 999.7,743.6 999.9,744.2 1000.4,744.7 1001.3,745 1002.6,745.2 1003.9,745.4 1005.1,745.7 1006,746.1 1006.3,746.6 1006.3,747.3 1006.1,748 1006,748.6 1006.2,749.2 1006.9,749.6 1007.9,750 1009.1,750.4 1010.1,750.8 1010.7,751.3 1010.8,751.9 1010.4,752.5 1009.8,753.2 1009.3,753.8 1009.3,754.3 1009.6,754.8 1010.4,755.3 1011.4,755.9 1012.1,756.4 1012.4,757"/>
<path class="o" d="M1011,760.4 L1011,772.9 Q1010.4,778.3 1009.9,776.6 L1009.9,764.1"/>
<path class="o" d="M1008.8,765.9 L1008.8,778.4 Q1007.3,783.6 1005.8,781.7 L1005.8,769.2"/>
<path class="o" d="M1003.7,770.8 L1003.7,783.3 Q1001.3,788.2 998.9,786.1 L998.9,773.6"/>
<path class="o" d="M996.1,774.8 L996.1,787.3 Q993,791.8 989.9,789.3 L989.9,776.8"/>
<path class="o" d="M986.5,777.6 L986.5,790.1 Q982.9,794.1 979.4,791.1 L979.4,778.6"/>
<path class="o" d="M975.7,778.9 L975.7,791.4 Q972,794.9 968.3,791.4 L968.3,778.9"/>
<path class="o" d="M964.6,778.6 L964.6,791.1 Q961.1,794.1 957.5,790.1 L957.5,777.6"/>
<path class="o" d="M954.1,776.8 L954.1,789.3 Q951,791.8 947.9,787.3 L947.9,774.8"/>
<path class="o" d="M945.1,773.6 L945.1,786.1 Q942.7,788.2 940.3,783.3 L940.3,770.8"/>
<path class="o" d="M938.2,769.2 L938.2,781.7 Q936.7,783.6 935.2,778.4 L935.2,765.9"/>
<path class="o" d="M934.1,764.1 L934.1,776.6 Q933.6,778.3 933,772.9 L933,760.4"/>
<ellipse class="hw" cx="972" cy="755" rx="19" ry="9.6"/>
<path class="o" d="M957,760 Q972,768 988,759"/>
<line class="o" x1="972" y1="746" x2="972" y2="764.5"/>
<line class="o" x1="977" y1="746.5" x2="977" y2="764"/>
<path class="hw" d="M939,911 L939,922 A33.7,16 0 0 0 1006.3,922 L1006.3,911"/>
<ellipse class="hw" cx="972.6" cy="911" rx="33.7" ry="16"/>
<ellipse class="hw" cx="972.6" cy="910.5" rx="25" ry="11.2"/>
<polyline class="o" points="950.7,913.3 951.1,912.2 951.8,911.2 952.9,910.2 954.2,909.3 955.9,908.5 957.7,907.7 959.9,907.1 962.2,906.5 964.6,906.1 967.2,905.8 969.9,905.6 972.6,905.5 975.3,905.6 978,905.8 980.6,906.1 983,906.5 985.3,907.1 987.5,907.7 989.3,908.5 991,909.3 992.3,910.2 993.4,911.2 994.1,912.2 994.5,913.3"/>
<polyline class="t" points="1002.5,923.6 1001.9,924.1 1001.3,924.7 1000.6,925.2 999.9,925.7 999.1,926.2 998.3,926.7 997.5,927.2 996.6,927.6 995.7,928.1 994.7,928.5 993.7,928.9 992.7,929.3 991.6,929.7 990.5,930 989.4,930.3 988.3,930.6 987.1,930.9 985.9,931.2 984.7,931.4 983.4,931.6 982.2,931.8 980.9,932 979.6,932.1 978.3,932.3"/>
<polyline class="t" points="969.7,932.4 968.2,932.4 966.6,932.2 965.1,932.1 963.6,931.9 962.1,931.7 960.6,931.4 959.2,931.2 957.8,930.9 956.4,930.5 955.1,930.1 953.8,929.7 952.5,929.3 951.3,928.8 950.1,928.4 949,927.8 947.9,927.3 946.9,926.7 946,926.2 945.1,925.6 944.3,924.9 943.5,924.3 942.8,923.7 942.2,923 941.6,922.3"/>
<path class="hw" d="M1019,998 Q1012,1006 1019,1014.5 L1024,1012 L1024,1000 Z"/>
<path class="o" d="M1019,998 L1019,1014.5"/>
<ellipse class="h" cx="697.5" cy="905" rx="11" ry="7.3"/>
<path class="hw" d="M684.8,936 L684.8,1000 Q697.5,1011 710.4,1000 L710.4,936 Q710,931 697.5,931 Q685,931 684.8,936 Z"/>
<ellipse class="o" cx="697.6" cy="936.5" rx="9.5" ry="4"/>
<line class="t" x1="706.5" y1="945" x2="706.5" y2="995"/>
<ellipse class="h" cx="968.7" cy="1448.4" rx="20.3" ry="11.3"/>
<path class="hw" d="M948,1492 L948,1510 A21,10 0 0 0 990,1510 L990,1492"/>
<ellipse class="hw" cx="969" cy="1491.5" rx="21" ry="10.5"/>
<path class="k" d="M955,1497 Q968,1493 982,1496 Q969,1502 955,1497 Z"/>
<path class="k" d="M976,1488.5 L983,1491 L981,1494 Z"/>
<line class="o" x1="987" y1="1503" x2="987" y2="1508"/>
<path class="hw" d="M943.5,1553 L943.5,1560 A23.5,11 0 0 0 990.5,1560 L990.5,1553"/>
<ellipse class="hw" cx="967" cy="1553" rx="23.5" ry="11.5"/>
<ellipse class="o" cx="967" cy="1553.5" rx="18" ry="8"/>
<ellipse class="o" cx="967.5" cy="1555.5" rx="12.5" ry="5.2"/>
<path class="h" d="M958,1560 Q968,1564 978,1559"/>

<!-- 16_crank.svg -->
<path class="hw" d="M949,1350 L949,1414 Q967,1428 985.5,1414 L985.5,1350 Z"/>
<path class="o" d="M949,1372 Q967,1385 985.5,1372"/>
<path class="hw" d="M943.5,1336 L943.5,1350 Q966,1366 991.5,1350 L991.5,1330 Z"/>
<path class="hw" d="M908.5,1290 C907.7,1296 907.7,1317.8 908.5,1324 C909.3,1330.2 911.2,1328.8 914,1331 C916.8,1333.2 922.6,1336.4 927,1338.5 C931.4,1340.6 939.3,1344.2 943.5,1345 C947.7,1345.8 952.2,1344.8 955,1344 C957.8,1343.2 960.6,1342 962,1340 C963.4,1338 959.6,1332.3 964,1331 C968.4,1329.7 984.9,1331.9 991.5,1331 C998.1,1330.1 1003.9,1328.6 1008,1325 C1012.1,1321.4 1017.4,1311.3 1019,1307 C1020.6,1302.7 1024.8,1299.3 1019,1296 C1013.1,1292.7 992.6,1287 980,1285 C967.4,1283 944.9,1283.2 935,1283 C925.1,1282.8 918,1283 914,1284 C910,1285 909.3,1284 908.5,1290 Z"/>
<path class="o" d="M910,1307 C911.3,1308 915.2,1311.2 918,1313 C920.8,1314.8 925.5,1317.2 927,1318"/>
<path class="o" d="M934,1322 C936.3,1322.5 943.7,1324.6 948,1325 C952.3,1325.4 958,1324.6 960,1324.5"/>
<path class="o" d="M963,1305 C964,1301.8 964.6,1302.4 968,1302 C971.4,1301.6 977,1301.8 980,1303 C983,1304.2 982.8,1305 983,1308 C983.2,1311 984.4,1315.2 981,1318 C977.6,1320.8 969.6,1322 966,1322 C962.4,1322 963.6,1321.4 963,1318 C962.4,1314.6 962,1308.2 963,1305 Z"/>
<path class="o" d="M965,1330 C967.2,1329.3 973.8,1326.2 978,1326 C982.2,1325.8 988,1328.1 990,1328.5"/>
<polyline class="o" points="962.5,1322 962,1340"/>
<path class="hw" d="M972,1292 Q975,1302 1000,1306 Q1024,1305 1028.5,1294 L1027,1283 L976,1280 Z"/>
<path class="hw" d="M978.5,1279 L978.5,1290 Q1000,1304 1026.5,1290 L1026.5,1272 L978.5,1270 Z"/>
<path class="h" d="M975,1296 Q1000,1311 1027,1298"/>
<path class="hw" d="M963.7,1218 C965.2,1208.1 960.6,1215.3 968,1214 C975.4,1212.7 1012.2,1207.7 1019,1208 C1025.8,1208.3 1021.5,1212.3 1019,1216.6 C1016.5,1220.9 1002.1,1235.9 1000.6,1240.6 C999.1,1245.3 1005.4,1250 1008,1251.7 C1010.6,1253.4 1017.5,1252.2 1020,1253 C1022.5,1253.8 1025.4,1255.5 1026.4,1258 C1027.4,1260.5 1028.2,1269.6 1027.3,1272 C1026.4,1274.4 1025,1275.1 1020,1276 C1015,1276.9 996,1278.1 990,1279 C984,1279.9 977.8,1281.4 975,1283 C972.2,1284.6 971,1289.5 969,1291 C967,1292.5 961.6,1294.4 960,1294 C958.4,1293.6 956.5,1298.1 957,1288 C957.5,1277.9 962.2,1227.9 963.7,1218 Z"/>
<path class="o" d="M969.5,1226 Q970,1224 973,1224 L985,1223 Q988,1223 988,1226 L988,1262 L982,1270 L969.5,1270 Z"/>
<polyline class="o" points="979,1225 979,1260 969.5,1260"/>
<polyline class="t" points="979,1260 985.5,1266"/>
<path class="o" d="M1001,1241 C1002.8,1244.5 1008.7,1256.3 1012,1262 C1015.3,1267.7 1019.5,1272.8 1021,1275"/>
<path class="t" d="M1006,1253 C1007.3,1254 1010.8,1257.8 1014,1259 C1017.2,1260.2 1023.2,1259.8 1025,1260"/>
<path class="hw" d="M908.5,1200 C907.6,1209.7 907.8,1254.9 908.5,1266 C909.2,1277.1 910.5,1279.9 914,1283 C917.5,1286.1 929.3,1287.4 935,1289 C940.7,1290.6 953.1,1294.9 957,1295 C960.9,1295.1 963.1,1300.3 964,1290 C964.9,1279.7 963.2,1228.5 964,1218 C964.8,1207.5 968.5,1212.9 970,1211 C971.5,1209.1 976.3,1206 975,1204 C973.7,1202 966,1197.6 960,1196 C954,1194.4 936,1192.4 930,1192 C924,1191.6 917.9,1191.9 915,1193 C912.1,1194.1 909.4,1190.3 908.5,1200 Z"/>
<path class="o" d="M910,1213 C912.5,1214.3 920,1218.8 925,1221 C930,1223.2 935.3,1225.1 940,1226.5 C944.7,1227.9 950.8,1229 953,1229.5"/>
<path class="o" d="M910,1238.5 C912.5,1239.4 920,1242.5 925,1244 C930,1245.5 935,1246.5 940,1247.5 C945,1248.5 952.5,1249.6 955,1250"/>
<path class="o" d="M910,1262.5 C912.5,1263.6 920,1267.2 925,1269 C930,1270.8 935.1,1271.9 940,1273 C944.9,1274.1 952.1,1275.1 954.5,1275.5"/>
<path class="o" d="M953,1229.5 C953.7,1231.2 956.5,1229.9 957,1240 C957.5,1250.1 956.2,1281.7 956,1290"/>
<path class="o" d="M953,1229.5 C954.2,1228.9 958.2,1227.8 960,1226 C961.8,1224.2 963.3,1220.2 964,1219"/>
<path class="hw" d="M973,1196 Q975,1207 1000,1212 Q1027,1210 1030.5,1199 L1028,1188 L976,1184 Z"/>
<path class="hw" d="M978.5,1182 L978.5,1195 Q1000,1208 1027.3,1195 L1027.3,1176 L978.5,1174 Z"/>
<path class="h" d="M975,1200 Q1000,1216 1029,1203"/>
<path class="hw" d="M908.4,1156 C907.6,1161 906.2,1169.6 908.4,1174 C910.6,1178.4 918.3,1183 923,1185.5 C927.7,1188 934.8,1189.7 940,1191 C945.2,1192.3 953.6,1194.3 958,1194.5 C962.4,1194.7 967.2,1194.7 969,1192.5 C970.8,1190.3 967.5,1181.9 970,1180 C972.5,1178.1 982.2,1179.6 986,1180 C989.8,1180.4 990,1182.3 995,1182.5 C1000,1182.7 1014.2,1182.4 1019,1181.6 C1023.8,1180.8 1025.6,1179.2 1027.3,1177 C1029,1174.8 1030.7,1169.5 1030.5,1167 C1030.3,1164.5 1027.7,1161.3 1026,1160 C1024.3,1158.7 1021.7,1159.7 1019,1158.5 C1016.3,1157.3 1011,1154.8 1008,1152 C1005,1149.2 1004.7,1142.2 999,1139.5 C993.3,1136.8 978.1,1134.5 970,1134 C961.9,1133.5 951.5,1136.4 945.3,1136.5 C939.1,1136.6 933.4,1133.9 928.7,1134.6 C924,1135.3 917,1137.8 914,1141 C911,1144.2 909.2,1151 908.4,1156 Z"/>
<path class="o" d="M910,1163 C912.3,1164.5 922.3,1171.9 927,1174 C931.7,1176.1 940.9,1178.1 945,1179 C949.1,1179.9 955.5,1181.4 958,1180.7 C960.5,1180 960,1175 963.7,1174 C967.4,1173 982.9,1172.5 985.9,1173.3 C988.9,1174.1 986,1178.9 986,1179.8"/>
<polyline class="o" points="969.5,1175 969.5,1192"/>
<path class="o" d="M999,1139.5 C1000.8,1142.6 1006.8,1152.6 1010,1158 C1013.2,1163.4 1016,1168.3 1018,1172 C1020,1175.7 1021.3,1178.7 1022,1180"/>
<path class="t" d="M1000.6,1157.6 C1002.2,1157.5 1006.9,1156.8 1010,1157 C1013.1,1157.2 1017.5,1158.3 1019,1158.6"/>
<path class="h" d="M1012,1163 C1013,1163.5 1016.7,1164.2 1018,1166 C1019.3,1167.8 1019.7,1172.7 1020,1174"/>
<ellipse class="hw" cx="969.5" cy="1152" rx="33.5" ry="13.5"/>
<path class="hw" d="M945.3,1100 L945.3,1151 Q969,1168 995.5,1151 L995.5,1100 Z"/>
<path class="o" d="M947,1121 Q970,1134 995.5,1121"/>
<ellipse class="w" cx="970.4" cy="1100" rx="25" ry="8"/>
<path class="o" d="M947,1104 Q970,1114 994,1104"/>
<path class="hw" d="M953.4,1084 L953.4,1100 Q971,1110 991,1100 L991,1084 Z"/>
<path class="hw" d="M951.2,1061 L951.2,1083 Q971,1095 992,1083 L992,1061 Z"/>
<path class="o" d="M951.5,1066 Q971,1075 991.5,1066"/>
<path class="o" d="M951.5,1070.5 Q971,1079.5 991.5,1070.5"/>
<path class="o" d="M951.5,1075 Q971,1084 991.5,1075"/>
<path class="o" d="M951.5,1079.5 Q971,1088.5 991.5,1079.5"/>
<path class="hw" d="M955.6,1024 L951.2,1061 Q971,1071 992,1061 L988,1024 Z"/>
<line class="o" x1="974" y1="1068" x2="974" y2="1088"/>
<path class="hw" d="M956.4,1021 L956.4,1025 Q972,1032 987.3,1025 L987.3,1021 Q972,1015 956.4,1021 Z"/>
<path class="hw" d="M960,995 L960,1019 Q972,1025 983.7,1019 L983.7,995 Z"/>
<path class="o" d="M960,999.5 Q972,1004.5 983.7,999.5"/>
<path class="o" d="M960,1004 Q972,1009 983.7,1004"/>
<path class="o" d="M960,1008.5 Q972,1013.5 983.7,1008.5"/>
<path class="o" d="M960,1013 Q972,1018 983.7,1013"/>
<path class="o" d="M960,1017.5 Q972,1022.5 983.7,1017.5"/>
<ellipse class="hw" cx="971.9" cy="995" rx="11.8" ry="4.2"/>
<ellipse class="t" cx="972" cy="995.5" rx="6" ry="2"/>

<!-- 17_piston_etc.svg -->
<path class="hw" d="M674.7,1023 C662.4,1019.3 665,1022.2 660,1025 C655,1027.8 649,1033.3 645,1040 C641,1046.7 637.5,1057 636,1065 C634.5,1073 635.4,1082.1 636,1088 C636.6,1093.9 631.1,1094.7 639.7,1100.6 C648.3,1106.5 677.8,1120.4 687.8,1123.6 C697.8,1126.8 694.6,1123.1 700,1120 C705.4,1116.9 714.5,1110 720,1105 C725.5,1100 728.8,1092.2 733,1090 C737.2,1087.8 742.7,1093.7 745,1092 C747.3,1090.3 747.1,1084 746.9,1080 C746.7,1076 744.1,1071.3 744,1068 C743.9,1064.7 747,1063 746,1060 C745,1057 740,1052.2 738,1050 C736,1047.8 744.3,1051.5 733.8,1047 C723.2,1042.5 687,1026.7 674.7,1023 Z"/>
<path class="o" d="M678.7,1024.7 C676.2,1025.4 668.6,1025.5 664,1028.7 C659.4,1031.9 654.5,1037.2 651,1043.7 C647.5,1050.2 644.3,1060 643,1067.7 C641.7,1075.4 642.5,1084 643,1089.7 C643.5,1095.4 645.5,1099.7 646,1101.7"/>
<path class="o" d="M683.7,1026.8 C681.2,1027.5 673.6,1027.6 669,1030.8 C664.4,1034 659.5,1039.3 656,1045.8 C652.5,1052.3 649.3,1062.1 648,1069.8 C646.7,1077.5 647.5,1086.1 648,1091.8 C648.5,1097.5 650.5,1101.8 651,1103.8"/>
<path class="o" d="M689.2,1029.2 C686.8,1029.9 679.1,1030 674.5,1033.2 C669.9,1036.4 665,1041.7 661.5,1048.2 C658,1054.7 654.8,1064.5 653.5,1072.2 C652.2,1079.9 653,1088.5 653.5,1094.2 C654,1099.9 656,1104.2 656.5,1106.2"/>
<path class="h" d="M722.8,1042.7 C721,1043.2 715.8,1042.8 712,1046 C708.2,1049.2 703.5,1054.7 700,1062 C696.5,1069.3 693,1079.7 691,1090 C689,1100.3 688.3,1118 687.8,1123.6"/>
<path class="o" d="M722.8,1042.7 C724,1043.9 728.6,1045.8 730,1050 C731.4,1054.2 732,1061.3 731,1068 C730,1074.7 727.5,1083.3 724,1090 C720.5,1096.7 714.7,1103.3 710,1108 C705.3,1112.7 698.3,1116.3 696,1118"/>
<path class="o" d="M704,1060 C701.7,1061.9 698.9,1066.4 697,1072 C695.1,1077.6 695.3,1080.3 696,1084 C696.7,1087.7 698.1,1089.4 700,1088 C701.9,1086.6 702.4,1083.6 704,1078 C705.6,1072.4 707,1068.2 707,1064 C707,1059.8 706.3,1058.1 704,1060 Z"/>
<path class="t" d="M733,1090 C733.8,1087.5 737.3,1080.3 738,1075 C738.7,1069.7 737.7,1062.7 737,1058 C736.3,1053.3 734.3,1048.8 733.8,1047"/>
<ellipse class="hw" cx="694.5" cy="1041.5" rx="12" ry="6" transform="rotate(-8 694.5 1041.5)"/>
<ellipse class="o" cx="693" cy="1042.5" rx="7.5" ry="3.4" transform="rotate(-8 693 1042.5)"/>
<polyline class="o" points="675,1052 690,1049.5"/>
<polyline class="o" points="688,1050 686,1058 680,1060"/>
<polyline class="o" points="679,1056 686,1055"/>
<path class="t" d="M700,1047 C701.3,1046.8 705.3,1046 708,1046 C710.7,1046 714.7,1046.8 716,1047"/>
<path class="hw" d="M754.5,1098 C754.5,1094.6 754.8,1093.9 756,1093 C757.2,1092.1 762.2,1090.4 765,1090 C767.8,1089.6 777.1,1089 780,1089.5 C782.9,1090 788.5,1092.7 790,1094 C791.5,1095.3 787,1097.4 793,1100.5 C799,1103.6 834.4,1118.1 841,1120.3 C847.6,1122.5 847.5,1119.3 850,1119 C852.5,1118.7 859,1118 862,1118 C865,1118 872.7,1118.4 876,1119 C879.3,1119.6 888.2,1121.7 890,1123 C891.8,1124.3 891.3,1126.8 891.3,1130 C891.3,1133.2 891,1147.3 890,1150 C889,1152.7 884.5,1153 883,1153 C881.5,1153 877.8,1151.5 877,1150 C876.2,1148.5 877,1141.4 876,1140 C875,1138.6 870.1,1137.9 868,1138 C865.9,1138.1 860,1140.1 858,1141 C856,1141.9 851.8,1142.6 851,1146 C850.2,1149.4 851.5,1166.8 850.8,1170 C850.1,1173.2 846.7,1173 845,1173 C843.3,1173 838.2,1171.2 836,1170 C833.8,1168.8 827.4,1165.2 826,1163 C824.6,1160.8 829.7,1154.7 824,1151 C818.3,1147.3 784.3,1134.1 777.5,1131.3 C770.7,1128.5 768.6,1128 766,1127 C763.4,1126 756.9,1125.9 755.6,1122.5 C754.3,1119.1 754.5,1101.4 754.5,1098 Z"/>
<ellipse class="hw" cx="773" cy="1099.5" rx="17.5" ry="9" transform="rotate(3 773 1099.5)"/>
<ellipse class="hw" cx="773" cy="1100" rx="11.5" ry="5.2" transform="rotate(3 773 1100)"/>
<path class="o" d="M755.5,1103 C756.6,1104 758.8,1107.7 762,1109 C765.2,1110.3 770.7,1111.2 775,1111 C779.3,1110.8 785.8,1108.5 788,1108"/>
<polyline class="o" points="779,1113 800,1109 838,1124"/>
<polyline class="o" points="779,1113 824,1133"/>
<polyline class="t" points="795,1116 828,1130"/>
<polyline class="t" points="805,1110 820,1116"/>
<path class="o" d="M836,1130 C837,1129 839.3,1125.5 842,1124 C844.7,1122.5 848.7,1121.5 852,1121 C855.3,1120.5 860.3,1121 862,1121"/>
<path class="o" d="M841,1136 C841.8,1134.7 843.5,1130 846,1128 C848.5,1126 852.3,1124.7 856,1124 C859.7,1123.3 864.3,1123.5 868,1124 C871.7,1124.5 876.3,1126.5 878,1127"/>
<path class="o" d="M824,1151 C825.3,1150.7 829.7,1150.7 832,1149 C834.3,1147.3 837.3,1144.2 838,1141 C838.7,1137.8 835.5,1133.5 836,1130 C836.5,1126.5 840.2,1121.7 841,1120"/>
<polyline class="o" points="838,1143 850,1146"/>
<polyline class="o" points="877,1124 877,1150"/>
<polyline class="o" points="845,1148 845,1172"/>
<ellipse class="t" cx="884" cy="1137" rx="2" ry="3.6"/>
<ellipse class="t" cx="848" cy="1158" rx="1.6" ry="3.2"/>
<polyline class="h" style="stroke-width:3.4" points="602.3,1213.1 603.2,1215.3 603.7,1218 603.9,1220.9 603.7,1224.2 603.2,1227.7 602.3,1231.4 601.1,1235.3 599.5,1239.2 597.6,1243.2 595.5,1247.2 593.1,1251.1 590.5,1254.8 587.7,1258.4 584.7,1261.8 581.7,1264.9 578.6,1267.7 575.5,1270.1 572.4,1272.1 569.4,1273.7 566.5,1274.9 563.7,1275.6 561.2,1275.9 558.9,1275.6 556.8,1275 555,1273.8 553.5,1272.2 552.4,1270.2 551.6,1267.8 551.2,1265.1 551.1,1262 551.4,1258.7 552.1,1255.1 553.1,1251.3 554.4,1247.4 556.1,1243.5 558.1,1239.5 560.3,1235.5 562.8,1231.7 565.4,1227.9 568.3,1224.4 571.3,1221.1 574.3,1218.1 577.4,1215.5 580.5,1213.2 583.6,1211.3 586.6,1209.8 589.4,1208.8 592.1,1208.3"/>
<polyline class="h" points="600.5,1207.1 601.4,1207.4 602.3,1207.8 603.1,1208.3 603.8,1208.9 604.5,1209.6 605.1,1210.4"/>
<polyline class="h" style="stroke-width:3.4" points="644.3,1235.1 645.2,1237.3 645.7,1240 645.9,1242.9 645.7,1246.2 645.2,1249.7 644.3,1253.4 643.1,1257.3 641.5,1261.2 639.6,1265.2 637.5,1269.2 635.1,1273.1 632.5,1276.8 629.7,1280.4 626.7,1283.8 623.7,1286.9 620.6,1289.7 617.5,1292.1 614.4,1294.1 611.4,1295.7 608.5,1296.9 605.7,1297.6 603.2,1297.9 600.9,1297.6 598.8,1297 597,1295.8 595.5,1294.2 594.4,1292.2 593.6,1289.8 593.2,1287.1 593.1,1284 593.4,1280.7 594.1,1277.1 595.1,1273.3 596.4,1269.4 598.1,1265.5 600.1,1261.5 602.3,1257.5 604.8,1253.7 607.4,1249.9 610.3,1246.4 613.3,1243.1 616.3,1240.1 619.4,1237.5 622.5,1235.2 625.6,1233.3 628.6,1231.8 631.4,1230.8 634.1,1230.3"/>
<polyline class="h" points="642.5,1229.1 643.4,1229.4 644.3,1229.8 645.1,1230.3 645.8,1230.9 646.5,1231.6 647.1,1232.4"/>
<ellipse class="h" cx="702" cy="1301.4" rx="37.4" ry="16" transform="rotate(-65 702 1301.4)" style="stroke-width:3.4"/>
<ellipse class="h" cx="720.8" cy="1310" rx="37.4" ry="16" transform="rotate(-65 720.8 1310)" style="stroke-width:3.4"/>
<ellipse class="h" cx="738" cy="1317.5" rx="37.4" ry="16" transform="rotate(-65 738 1317.5)" style="stroke-width:3.4"/>
<path class="hw" d="M1041.2,1231 C1042.1,1225.8 1043.9,1227.5 1047,1227 C1050.1,1226.5 1055.5,1227.8 1060,1228 C1064.5,1228.2 1071.3,1230.7 1074,1228 C1076.7,1225.3 1075.2,1215.7 1076,1212 C1076.8,1208.3 1077.6,1207.1 1079,1206 C1080.4,1204.9 1082.1,1204.5 1084.5,1205.5 C1086.9,1206.5 1090,1210.2 1093.6,1212.3 C1097.2,1214.4 1103.3,1216 1106,1218 C1108.7,1220 1109,1221.5 1109.5,1224 C1110,1226.5 1110.2,1230.2 1109,1233 C1107.8,1235.8 1105.3,1237.4 1102.2,1241 C1099.1,1244.6 1093.9,1251.5 1090.2,1254.5 C1086.5,1257.5 1083.7,1257.9 1080,1259 C1076.3,1260.1 1071.7,1261 1068,1261 C1064.3,1261 1061.2,1259.8 1058,1259 C1054.8,1258.2 1051.8,1256.2 1049,1256 C1046.2,1255.8 1042.8,1262.2 1041.5,1258 C1040.2,1253.8 1040.3,1236.2 1041.2,1231 Z"/>
<path class="h" d="M1042,1231 C1044.2,1231.3 1051,1232.3 1055,1233 C1059,1233.7 1062.5,1235 1066,1235 C1069.5,1235 1072.3,1234.2 1076,1233 C1079.7,1231.8 1084.8,1230.2 1088,1228 C1091.2,1225.8 1093.5,1222.7 1095,1220 C1096.5,1217.3 1096.7,1213.3 1097,1212"/>
<path class="o" d="M1078,1229 C1078.8,1227.8 1081.8,1224.8 1083,1222 C1084.2,1219.2 1084.7,1213.7 1085,1212"/>
<path class="o" d="M1083,1207 C1084,1208 1087.8,1210.5 1089,1213 C1090.2,1215.5 1089.8,1220.5 1090,1222"/>
<path class="o" d="M1078,1243 C1080,1242.5 1086.7,1241.7 1090,1240 C1093.3,1238.3 1096.2,1235.7 1098,1233 C1099.8,1230.3 1100.5,1225.5 1101,1224"/>
<polyline class="o" points="1103,1220 1102,1238"/>
<polyline class="t" points="1105,1226 1108,1231"/>
<ellipse class="hw" cx="1066.5" cy="1251" rx="6.2" ry="8.4" transform="rotate(18 1066.5 1251)"/>
<ellipse class="o" cx="1066.5" cy="1251" rx="3" ry="5" transform="rotate(18 1066.5 1251)"/>
<ellipse class="hw" cx="1101.3" cy="1270.4" rx="7.6" ry="10.2" transform="rotate(-15 1101.3 1270.4)" style="stroke-width:3.2"/>
<ellipse class="o" cx="1101.8" cy="1270.2" rx="3" ry="5" transform="rotate(-15 1101.8 1270.2)"/>
<ellipse class="h" cx="1160.8" cy="1271" rx="4.6" ry="6.8" transform="rotate(10 1160.8 1271)"/>
<path class="h" d="M1159,1277 C1158.2,1278.2 1156,1282 1154,1284 C1152,1286 1149.2,1287.3 1147,1289 C1144.8,1290.7 1142,1293.2 1141,1294"/>
<path class="o" d="M1163,1277 C1162.2,1278.8 1160.2,1285.3 1158,1288 C1155.8,1290.7 1152.3,1291.3 1150,1293 C1147.7,1294.7 1145,1297.2 1144,1298"/>
<ellipse class="h" cx="1141.5" cy="1298" rx="4" ry="5.4" transform="rotate(-20 1141.5 1298)"/>
<polyline class="o" points="1139,1286 1141,1293"/>
<g transform="translate(1184.5,1322) rotate(21.3)">
<path class="hw" d="M0,-4.3 L44,-4.3 L44,4.3 L0,4.3 Q-3.5,0 0,-4.3 Z"/>
<line class="o" x1="1.6" y1="4.3" x2="4.4" y2="-4.3"/>
<line class="o" x1="5.6" y1="4.3" x2="8.4" y2="-4.3"/>
<line class="o" x1="9.6" y1="4.3" x2="12.4" y2="-4.3"/>
<line class="o" x1="13.6" y1="4.3" x2="16.4" y2="-4.3"/>
<line class="o" x1="17.6" y1="4.3" x2="20.4" y2="-4.3"/>
<line class="o" x1="21.6" y1="4.3" x2="24.4" y2="-4.3"/>
<path class="hw" d="M44,-7 L52,-7.5 Q57,0 52,7.5 L44,7 Q41,0 44,-7 Z"/>
<ellipse class="hw" cx="52" cy="0" rx="3.6" ry="7.4"/>
<line class="t" x1="45" y1="-2.5" x2="51" y2="-2.5"/>
</g>
<path class="hw" d="M1053.2,1346 Q1056,1334 1074.7,1331.5 L1097,1333.5 L1098,1357.5 Q1078,1352 1066,1362 L1063,1377.5 Q1054,1372 1053.2,1368 Z"/>
<path class="o" d="M1061,1350 Q1066,1341 1078,1340 L1097,1340.5"/>
<path class="o" d="M1063.5,1356 Q1069,1347.5 1080,1346.5 L1097.5,1348"/>
<path class="o" d="M1060,1349 L1063,1377"/>
<path class="t" d="M1054,1349 Q1057,1350 1060,1349"/>
<path class="hw" d="M1122,1376.5 Q1146,1380 1164,1366 L1164,1393 Q1146,1406 1122.8,1400.6 Z"/>
<path class="hw" d="M1152,1374 L1152,1356 Q1160,1358 1164,1366"/>
<path class="t" d="M1155,1363 Q1160,1366 1160,1371"/>
<path class="k" d="M1156,1383 L1160.5,1386 L1156,1389 Z"/>

<!-- 90_labels.svg -->
<g id="leaders">
<line class="l" x1="408" y1="84.5" x2="446" y2="84.5"/>
<line class="l" x1="419.5" y1="178" x2="473" y2="181"/>
<line class="l" x1="484" y1="257" x2="539.5" y2="253"/>
<line class="l" x1="67" y1="264" x2="68" y2="289"/>
<line class="l" x1="137.5" y1="285.5" x2="109.5" y2="319.5"/>
<line class="l" x1="158" y1="331" x2="169.5" y2="346"/>
<line class="l" x1="158" y1="331" x2="161" y2="362.5"/>
<line class="l" x1="232.5" y1="335" x2="215.5" y2="369"/>
<line class="l" x1="71" y1="376" x2="82.5" y2="374"/>
<line class="l" x1="307.5" y1="397" x2="307.5" y2="429"/>
<line class="l" x1="429.5" y1="389.5" x2="484.5" y2="391"/>
<line class="l" x1="234" y1="434" x2="216" y2="467.5"/>
<line class="l" x1="66" y1="464" x2="92.5" y2="462"/>
<line class="l" x1="292.5" y1="505" x2="321" y2="484"/>
<line class="l" x1="71.6" y1="534.7" x2="93.5" y2="533.4"/>
<line class="l" x1="127.1" y1="707.1" x2="174.3" y2="706.6"/>
<line class="l" x1="270.8" y1="630.5" x2="316.3" y2="631"/>
<line class="l" x1="131" y1="867.6" x2="185.2" y2="877.4"/>
<line class="l" x1="473" y1="821" x2="534" y2="825.5"/>
<line class="l" x1="420" y1="925" x2="472.5" y2="925.5"/>
<line class="l" x1="479" y1="1047.5" x2="429" y2="1068"/>
<line class="l" x1="419.5" y1="1230.75" x2="461.25" y2="1232"/>
<line class="l" x1="402" y1="1281.25" x2="453.75" y2="1286.25"/>
<line class="l" x1="259.5" y1="1330" x2="278" y2="1330"/>
<line class="l" x1="341" y1="1389.5" x2="326" y2="1412.5"/>
<line class="l" x1="441" y1="1446" x2="477" y2="1442"/>
<line class="l" x1="324.5" y1="1511" x2="350" y2="1520"/>
<line class="l" x1="425" y1="1548.75" x2="467.5" y2="1543"/>
<line class="l" x1="937.5" y1="186.5" x2="1002.5" y2="184"/>
<line class="l" x1="867.5" y1="340" x2="881.5" y2="365"/>
<line class="l" x1="740" y1="411" x2="754" y2="450"/>
<line class="l" x1="854" y1="436.5" x2="915" y2="448.5"/>
<line class="l" x1="956" y1="380" x2="915" y2="448.5"/>
<line class="l" x1="625" y1="456.25" x2="644.25" y2="497.5"/>
<line class="l" x1="572.5" y1="615.5" x2="596.25" y2="590.5"/>
<line class="l" x1="743.25" y1="515.5" x2="758.75" y2="553"/>
<line class="l" x1="699.5" y1="645" x2="676.25" y2="666.25"/>
<line class="l" x1="631.75" y1="746.25" x2="633.25" y2="782"/>
<line class="l" x1="1008.75" y1="572" x2="1059.5" y2="570"/>
<line class="l" x1="1012.5" y1="628" x2="1066.25" y2="625"/>
<line class="l" x1="881.25" y1="772.5" x2="930" y2="770.5"/>
<line class="l" x1="1014.5" y1="698.75" x2="1090" y2="768.75"/>
<line class="l" x1="1016.25" y1="828.75" x2="1090" y2="768.75"/>
<line class="l" x1="1012" y1="923.25" x2="1063.75" y2="928"/>
<line class="l" x1="1028" y1="1010.75" x2="1083.75" y2="1013"/>
<line class="l" x1="715.5" y1="906" x2="747" y2="905"/>
<line class="l" x1="636.75" y1="971.75" x2="682.5" y2="971.75"/>
<line class="l" x1="774.4" y1="1016.75" x2="727.5" y2="1041.9"/>
<line class="l" x1="855" y1="1076.75" x2="798.75" y2="1101.9"/>
<line class="l" x1="1077.5" y1="1173" x2="1084.5" y2="1203.75"/>
<line class="l" x1="850" y1="1223" x2="902.5" y2="1223"/>
<line class="l" x1="582" y1="1406" x2="549.4" y2="1278"/>
<line class="l" x1="582" y1="1406" x2="719.25" y2="1355.75"/>
<line class="l" x1="1065.5" y1="1302" x2="1093.75" y2="1281"/>
<line class="l" x1="1164.5" y1="1231" x2="1164.5" y2="1264"/>
<line class="l" x1="1215" y1="1287" x2="1205" y2="1316"/>
<line class="l" x1="1077" y1="1415.6" x2="1064.7" y2="1382.8"/>
<line class="l" x1="1077" y1="1415.6" x2="1121" y2="1403"/>
<line class="l" x1="891.25" y1="1442" x2="947.5" y2="1446.25"/>
<line class="l" x1="995" y1="1503" x2="1047" y2="1501.5"/>
<line class="l" x1="891.25" y1="1554.7" x2="942.8" y2="1560.3"/>
<polyline class="l" points="405,1108.75 278,1108.75 276.25,1564.5 374.5,1564.5"/>
</g>
<g id="labels" style="filter:grayscale(1)">
<text x="448.8" y="90.5" textLength="32.5" lengthAdjust="spacingAndGlyphs">40</text>
<text x="474.8" y="188.0" textLength="16.0" lengthAdjust="spacingAndGlyphs">5</text>
<text x="541.8" y="262.5" textLength="32.0" lengthAdjust="spacingAndGlyphs">32</text>
<text x="51.8" y="259.5" textLength="32.0" lengthAdjust="spacingAndGlyphs">36</text>
<text x="123.3" y="280.0" textLength="28.0" lengthAdjust="spacingAndGlyphs">21</text>
<text x="142.8" y="326.0" textLength="31.5" lengthAdjust="spacingAndGlyphs">29</text>
<text x="217.8" y="331.0" textLength="32.5" lengthAdjust="spacingAndGlyphs">42</text>
<text x="34.3" y="386.0" textLength="31.5" lengthAdjust="spacingAndGlyphs">14</text>
<text x="291.3" y="392.0" textLength="32.5" lengthAdjust="spacingAndGlyphs">47</text>
<text x="486.8" y="400.0" textLength="31.5" lengthAdjust="spacingAndGlyphs">23</text>
<text x="198.8" y="491.0" textLength="31.5" lengthAdjust="spacingAndGlyphs">39</text>
<text x="30.8" y="471.0" textLength="30.5" lengthAdjust="spacingAndGlyphs">52</text>
<text x="259.8" y="526.5" textLength="32.5" lengthAdjust="spacingAndGlyphs">25</text>
<text x="37.4" y="545.8" textLength="32.4" lengthAdjust="spacingAndGlyphs">27</text>
<text x="174.2" y="712.3" textLength="32.4" lengthAdjust="spacingAndGlyphs">48</text>
<text x="236.8" y="639.5" textLength="30.2" lengthAdjust="spacingAndGlyphs">18</text>
<text x="187.1" y="887.2" textLength="33.4" lengthAdjust="spacingAndGlyphs">53</text>
<text x="534.8" y="832.5" textLength="32.5" lengthAdjust="spacingAndGlyphs">35</text>
<text x="475.8" y="932.0" textLength="31.0" lengthAdjust="spacingAndGlyphs">17</text>
<text x="479.3" y="1056.0" textLength="32.0" lengthAdjust="spacingAndGlyphs">22</text>
<text x="463.8" y="1240.8" textLength="32.5" lengthAdjust="spacingAndGlyphs">60</text>
<text x="453.8" y="1296.2" textLength="31.2" lengthAdjust="spacingAndGlyphs">59</text>
<text x="224.3" y="1339.5" textLength="32.0" lengthAdjust="spacingAndGlyphs">58</text>
<text x="327.6" y="1385.5" textLength="31.7" lengthAdjust="spacingAndGlyphs">50</text>
<text x="476.8" y="1450.0" textLength="32.0" lengthAdjust="spacingAndGlyphs">62</text>
<text x="295.8" y="1519.5" textLength="27.5" lengthAdjust="spacingAndGlyphs">61</text>
<text x="469.3" y="1550.0" textLength="29.5" lengthAdjust="spacingAndGlyphs">51</text>
<text x="1006.3" y="191.0" textLength="32.5" lengthAdjust="spacingAndGlyphs">16</text>
<text x="852.3" y="337.5" textLength="32.5" lengthAdjust="spacingAndGlyphs">56</text>
<text x="722.8" y="408.5" textLength="32.5" lengthAdjust="spacingAndGlyphs">57</text>
<text x="899.8" y="476.0" textLength="32.5" lengthAdjust="spacingAndGlyphs">54</text>
<text x="605.8" y="451.2" textLength="32.5" lengthAdjust="spacingAndGlyphs">55</text>
<text x="555.0" y="637.0" textLength="32.5" lengthAdjust="spacingAndGlyphs">34</text>
<text x="741.3" y="574.5" textLength="31.2" lengthAdjust="spacingAndGlyphs">49</text>
<text x="696.3" y="643.8" textLength="31.2" lengthAdjust="spacingAndGlyphs">45</text>
<text x="625.0" y="801.2" textLength="16.7" lengthAdjust="spacingAndGlyphs">4</text>
<text x="1060.8" y="577.5" textLength="29.2" lengthAdjust="spacingAndGlyphs">31</text>
<text x="1068.8" y="633.0" textLength="33.0" lengthAdjust="spacingAndGlyphs">30</text>
<text x="845.8" y="779.5" textLength="33.0" lengthAdjust="spacingAndGlyphs">37</text>
<text x="1094.3" y="777.5" textLength="33.2" lengthAdjust="spacingAndGlyphs">33</text>
<text x="1066.8" y="934.5" textLength="32.0" lengthAdjust="spacingAndGlyphs">44</text>
<text x="1085.0" y="1019.5" textLength="32.5" lengthAdjust="spacingAndGlyphs">20</text>
<text x="750.7" y="914.4" textLength="17.5" lengthAdjust="spacingAndGlyphs">3</text>
<text x="617.5" y="982.0" textLength="17.5" lengthAdjust="spacingAndGlyphs">6</text>
<text x="775.0" y="1019.4" textLength="11.8" lengthAdjust="spacingAndGlyphs">1</text>
<text x="851.8" y="1080.5" textLength="17.5" lengthAdjust="spacingAndGlyphs">7</text>
<text x="1068.8" y="1170.0" textLength="17.5" lengthAdjust="spacingAndGlyphs">7</text>
<text x="818.2" y="1233.0" textLength="26.8" lengthAdjust="spacingAndGlyphs">11</text>
<text x="568.8" y="1429.5" textLength="16.5" lengthAdjust="spacingAndGlyphs">2</text>
<text x="1047.8" y="1320.0" textLength="17.2" lengthAdjust="spacingAndGlyphs">8</text>
<text x="1150.8" y="1227.0" textLength="30.5" lengthAdjust="spacingAndGlyphs">10</text>
<text x="1207.8" y="1283.0" textLength="17.5" lengthAdjust="spacingAndGlyphs">9</text>
<text x="1045.7" y="1436.9" textLength="29.6" lengthAdjust="spacingAndGlyphs">15</text>
<text x="861.3" y="1453.0" textLength="30.6" lengthAdjust="spacingAndGlyphs">13</text>
<text x="1047.8" y="1510.0" textLength="30.5" lengthAdjust="spacingAndGlyphs">12</text>
<text x="861.3" y="1562.5" textLength="30.6" lengthAdjust="spacingAndGlyphs">41</text>
<text class="s" x="1164" y="1594.5" textLength="71" lengthAdjust="spacingAndGlyphs">PCA1122A</text>
</g>

</svg>
</body></html>
